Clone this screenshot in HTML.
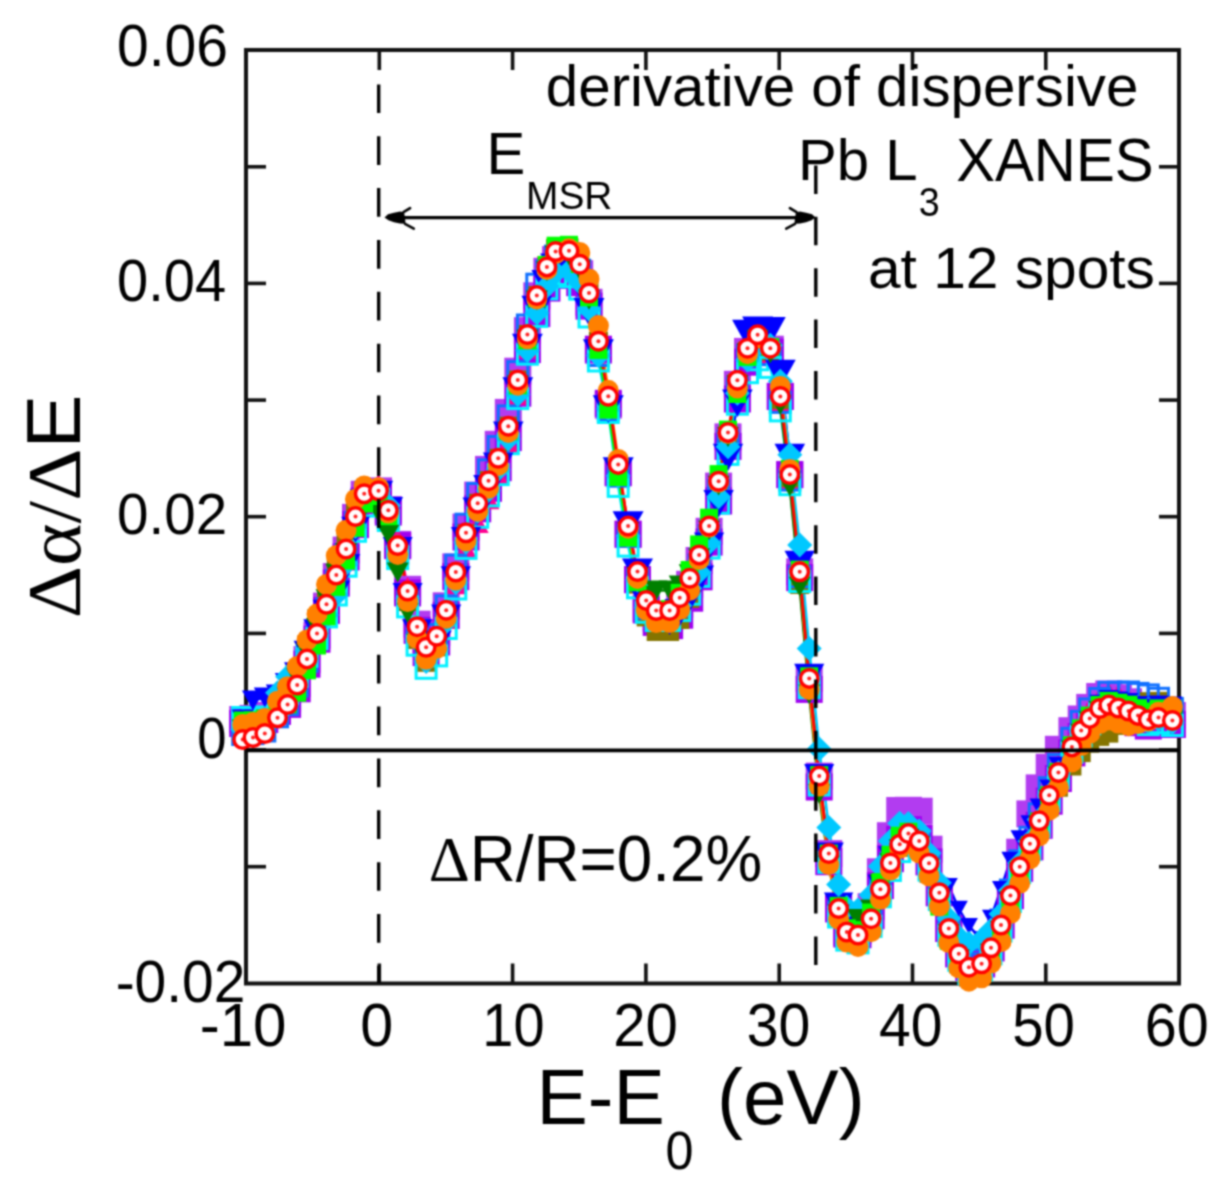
<!DOCTYPE html>
<html><head><meta charset="utf-8"><style>
html,body{margin:0;padding:0;background:#fff;width:1230px;height:1195px;overflow:hidden}
svg{display:block}
text{font-family:"Liberation Sans",sans-serif;fill:#000}
</style></head><body>
<svg width="1230" height="1195" viewBox="0 0 1230 1195">
<defs><filter id="bl" color-interpolation-filters="sRGB" x="0" y="0" width="1230" height="1195" filterUnits="userSpaceOnUse"><feConvolveMatrix order="5" kernelMatrix="1 8 16 8 1 8 64 128 64 8 16 128 256 128 16 8 64 128 64 8 1 8 16 8 1" edgeMode="duplicate"/></filter></defs>
<rect width="1230" height="1195" fill="#fff"/>
<g filter="url(#bl)">
<rect width="1230" height="1195" fill="#fff"/>
<g id="axes">
<rect x="246.0" y="50.0" width="933.0" height="933.5" fill="none" stroke="#111" stroke-width="4"/>
<line x1="246.0" y1="166.8" x2="266.0" y2="166.8" stroke="#111" stroke-width="3.6"/>
<line x1="1159.0" y1="166.8" x2="1179.0" y2="166.8" stroke="#111" stroke-width="3.6"/>
<line x1="246.0" y1="283.4" x2="266.0" y2="283.4" stroke="#111" stroke-width="3.6"/>
<line x1="1159.0" y1="283.4" x2="1179.0" y2="283.4" stroke="#111" stroke-width="3.6"/>
<line x1="246.0" y1="400.1" x2="266.0" y2="400.1" stroke="#111" stroke-width="3.6"/>
<line x1="1159.0" y1="400.1" x2="1179.0" y2="400.1" stroke="#111" stroke-width="3.6"/>
<line x1="246.0" y1="516.7" x2="266.0" y2="516.7" stroke="#111" stroke-width="3.6"/>
<line x1="1159.0" y1="516.7" x2="1179.0" y2="516.7" stroke="#111" stroke-width="3.6"/>
<line x1="246.0" y1="633.4" x2="266.0" y2="633.4" stroke="#111" stroke-width="3.6"/>
<line x1="1159.0" y1="633.4" x2="1179.0" y2="633.4" stroke="#111" stroke-width="3.6"/>
<line x1="246.0" y1="750.0" x2="266.0" y2="750.0" stroke="#111" stroke-width="3.6"/>
<line x1="1159.0" y1="750.0" x2="1179.0" y2="750.0" stroke="#111" stroke-width="3.6"/>
<line x1="246.0" y1="866.7" x2="266.0" y2="866.7" stroke="#111" stroke-width="3.6"/>
<line x1="1159.0" y1="866.7" x2="1179.0" y2="866.7" stroke="#111" stroke-width="3.6"/>
<line x1="379.3" y1="50.0" x2="379.3" y2="70.0" stroke="#111" stroke-width="3.6"/>
<line x1="379.3" y1="963.5" x2="379.3" y2="983.5" stroke="#111" stroke-width="3.6"/>
<line x1="512.6" y1="50.0" x2="512.6" y2="70.0" stroke="#111" stroke-width="3.6"/>
<line x1="512.6" y1="963.5" x2="512.6" y2="983.5" stroke="#111" stroke-width="3.6"/>
<line x1="645.9" y1="50.0" x2="645.9" y2="70.0" stroke="#111" stroke-width="3.6"/>
<line x1="645.9" y1="963.5" x2="645.9" y2="983.5" stroke="#111" stroke-width="3.6"/>
<line x1="779.2" y1="50.0" x2="779.2" y2="70.0" stroke="#111" stroke-width="3.6"/>
<line x1="779.2" y1="963.5" x2="779.2" y2="983.5" stroke="#111" stroke-width="3.6"/>
<line x1="912.5" y1="50.0" x2="912.5" y2="70.0" stroke="#111" stroke-width="3.6"/>
<line x1="912.5" y1="963.5" x2="912.5" y2="983.5" stroke="#111" stroke-width="3.6"/>
<line x1="1045.8" y1="50.0" x2="1045.8" y2="70.0" stroke="#111" stroke-width="3.6"/>
<line x1="1045.8" y1="963.5" x2="1045.8" y2="983.5" stroke="#111" stroke-width="3.6"/>
</g>

<g id="data">
<polyline points="242.7,719.5 253.0,718.4 264.8,715.5 277.5,706.3 287.6,698.4 297.2,683.6 307.0,659.6 317.0,635.2 326.5,606.1 336.3,576.6 346.1,550.1 355.5,517.4 364.2,494.3 378.5,490.9 388.3,509.6 397.7,544.4 407.6,589.3 417.1,624.2 426.1,644.2 436.7,632.5 446.2,605.8 455.8,566.9 466.0,527.1 477.7,495.1 488.5,469.4 498.2,444.3 508.3,412.4 517.8,371.2 527.4,330.7 536.8,295.8 546.9,271.3 555.6,259.6 569.0,260.6 579.7,273.7 589.0,302.3 598.4,350.2 608.3,405.1 618.2,472.9 628.1,534.4 637.5,579.7 646.2,608.2 656.2,617.9 669.6,617.3 679.7,604.1 689.7,584.3 699.1,560.5 709.1,531.3 718.6,486.1 728.0,436.9 737.4,384.3 747.5,351.4 757.6,337.0 770.3,349.2 780.3,396.4 789.8,474.6 799.7,571.8 809.2,678.4 819.2,776.1 828.8,853.6 838.6,908.6 846.8,932.0 858.0,930.5 871.1,906.7 880.4,871.8 890.4,835.7 899.7,810.5 908.4,810.3 919.2,811.2 929.0,849.2 939.3,892.7 948.8,928.5 958.8,953.8 968.9,967.2 981.6,963.8 991.0,947.8 1001.0,925.0 1010.4,895.0 1019.7,852.2 1029.9,813.9 1039.2,787.9 1049.2,767.3 1058.4,749.3 1071.9,730.7 1081.2,719.0 1089.7,707.4 1099.7,696.5 1108.8,694.0 1118.3,697.8 1128.5,701.8 1138.0,707.1 1148.3,712.4 1158.5,711.3 1172.4,715.5" fill="none" stroke="#b23cf0" stroke-width="2.6"/>
<polyline points="242.7,723.5 253.0,722.4 264.8,719.5 277.5,711.4 287.6,704.4 297.2,688.8 307.0,664.2 317.0,639.2 326.5,610.4 336.3,583.1 346.1,557.0 355.5,524.6 364.2,500.9 378.5,494.8 388.3,512.1 397.7,545.7 407.6,592.9 417.1,630.3 426.1,652.6 436.7,642.0 446.2,615.4 455.8,576.7 466.0,537.0 477.7,508.8 488.5,488.3 498.2,467.7 508.3,437.6 517.8,393.2 527.4,349.6 536.8,313.6 546.9,288.1 555.6,275.4 569.0,274.8 579.7,282.7 589.0,306.1 598.4,349.2 608.3,403.3 618.2,472.4 628.1,534.1 637.5,579.6 646.2,609.9 656.2,622.4 669.6,625.6 679.7,615.2 689.7,598.2 699.1,576.8 709.1,542.1 718.6,501.0 728.0,446.4 737.4,399.0 747.5,362.2 757.6,343.9 770.3,352.1 780.3,396.4 789.8,474.6 799.7,577.6 809.2,689.4 819.2,787.0 828.8,861.7 838.6,908.9 846.8,934.0 858.0,934.7 871.1,915.7 880.4,885.6 890.4,858.7 899.7,839.3 908.4,829.7 919.2,838.4 929.0,861.9 939.3,892.7 948.8,928.5 958.8,953.8 968.9,967.2 981.6,963.8 991.0,947.8 1001.0,925.0 1010.4,895.7 1019.7,868.3 1029.9,846.9 1039.2,825.3 1049.2,801.2 1058.4,778.5 1071.9,752.9 1081.2,736.5 1089.7,725.6 1099.7,717.1 1108.8,714.9 1118.3,717.2 1128.5,719.2 1138.0,722.7 1148.3,726.0 1158.5,722.9 1172.4,724.5" fill="none" stroke="#a000f0" stroke-width="2.6"/>
<polyline points="242.7,731.5 253.0,729.6 264.8,725.6 277.5,710.0 287.6,696.9 297.2,677.3 307.0,651.3 317.0,626.0 326.5,596.8 336.3,567.7 346.1,541.7 355.5,509.3 364.2,486.6 378.5,483.7 388.3,503.1 397.7,538.6 407.6,586.7 417.1,625.6 426.1,649.3 436.7,642.0 446.2,619.2 455.8,584.3 466.0,548.6 477.7,523.2 488.5,499.4 498.2,475.8 508.3,442.5 517.8,395.1 527.4,348.5 536.8,308.4 546.9,278.5 555.6,262.0 569.0,260.7 579.7,273.9 589.0,302.6 598.4,350.7 608.3,405.6 618.2,473.6 628.1,535.1 637.5,580.5 646.2,609.2 656.2,619.1 669.6,618.9 679.7,606.0 689.7,586.4 699.1,562.9 709.1,533.7 718.6,488.5 728.0,439.3 737.4,386.7 747.5,354.3 757.6,340.5 770.3,353.4 780.3,401.2 789.8,479.0 799.7,575.8 809.2,682.0 819.2,779.3 828.8,856.4 838.6,911.1 846.8,934.1 858.0,936.7 871.1,919.9 880.4,890.0 890.4,863.4 899.7,844.3 908.4,833.2 919.2,839.9 929.0,861.7 939.3,890.6 948.8,925.9 958.8,950.7 968.9,963.6 981.6,959.5 991.0,943.0 1001.0,919.7 1010.4,889.8 1019.7,860.5 1029.9,837.0 1039.2,813.5 1049.2,787.3 1058.4,764.2 1071.9,737.9 1081.2,721.0 1089.7,708.4 1099.7,697.1 1108.8,692.4 1118.3,694.0 1128.5,698.2 1138.0,703.6 1148.3,709.1 1158.5,708.1 1172.4,712.5" fill="none" stroke="#ff0090" stroke-width="2.6"/>
<polyline points="242.7,731.5 253.0,728.6 264.8,723.4 277.5,706.5 287.6,692.4 297.2,671.9 307.0,644.8 317.0,618.5 326.5,591.5 336.3,564.6 346.1,540.8 355.5,510.6 364.2,490.2 378.5,492.1 388.3,514.9 397.7,553.5 407.6,601.5 417.1,639.5 426.1,662.3 436.7,646.8 446.2,616.8 455.8,575.5 466.0,533.8 477.7,503.3 488.5,480.7 498.2,458.3 508.3,426.2 517.8,380.0 527.4,334.5 536.8,295.6 546.9,265.6 555.6,248.6 569.0,247.8 579.7,262.7 589.0,292.9 598.4,341.2 608.3,396.3 618.2,464.4 628.1,534.1 637.5,584.0 646.2,616.9 656.2,631.5 669.6,631.5 679.7,619.5 689.7,598.4 699.1,568.5 709.1,532.7 718.6,485.8 728.0,435.4 737.4,383.2 747.5,351.2 757.6,337.8 770.3,351.2 780.3,399.4 789.8,477.6 799.7,584.5 809.2,683.7 819.2,779.1 828.8,856.6 838.6,911.6 846.8,935.0 858.0,938.0 871.1,921.7 880.4,892.2 890.4,866.0 899.7,847.3 908.4,838.6 919.2,848.5 929.0,873.2 939.3,902.7 948.8,938.5 958.8,963.8 968.9,977.2 981.6,973.5 991.0,955.6 1001.0,930.8 1010.4,899.7 1019.7,872.7 1029.9,851.8 1039.2,830.6 1049.2,807.0 1058.4,787.2 1071.9,766.0 1081.2,752.6 1089.7,743.1 1099.7,736.4 1108.8,733.1 1118.3,725.4 1128.5,715.4 1138.0,708.9 1148.3,701.8 1158.5,701.4 1172.4,710.5" fill="none" stroke="#847400" stroke-width="2.6"/>
<polyline points="242.7,734.5 253.0,733.6 264.8,731.0 277.5,716.8 287.6,704.7 297.2,686.2 307.0,661.3 317.0,637.0 326.5,608.9 336.3,580.4 346.1,554.7 355.5,522.7 364.2,500.3 378.5,497.9 388.3,517.7 397.7,553.5 407.6,597.1 417.1,630.1 426.1,648.3 436.7,634.5 446.2,605.9 455.8,565.1 466.0,524.2 477.7,493.5 488.5,469.8 498.2,446.5 508.3,415.9 517.8,371.6 527.4,325.0 536.8,284.2 546.9,271.0 555.6,256.1 569.0,256.2 579.7,270.2 589.0,303.1 598.4,355.5 608.3,409.8 618.2,476.2 628.1,536.2 637.5,580.0 646.2,608.4 656.2,618.5 669.6,618.5 679.7,606.3 689.7,587.6 699.1,564.8 709.1,535.6 718.6,490.3 728.0,441.0 737.4,388.3 747.5,355.8 757.6,341.9 770.3,354.7 780.3,402.4 789.8,480.1 799.7,576.8 809.2,682.9 819.2,780.1 828.8,857.2 838.6,911.7 846.8,934.7 858.0,937.1 871.1,920.1 880.4,890.2 890.4,863.5 899.7,844.3 908.4,833.2 919.2,839.9 929.0,861.8 939.3,890.7 948.8,926.1 958.8,950.9 968.9,963.8 981.6,959.7 991.0,943.2 1001.0,920.0 1010.4,890.1 1019.7,860.8 1029.9,837.3 1039.2,813.8 1049.2,787.7 1058.4,764.6 1071.9,738.3 1081.2,721.4 1089.7,708.9 1099.7,698.5 1108.8,692.3 1118.3,692.2 1128.5,692.0 1138.0,693.4 1148.3,694.9 1158.5,698.3 1172.4,708.5" fill="none" stroke="#1070ff" stroke-width="2.6"/>
<polyline points="242.7,717.5 253.0,718.0 264.8,716.9 277.5,704.3 287.6,693.6 297.2,676.3 307.0,656.3 317.0,638.7 326.5,616.9 336.3,595.0 346.1,566.2 355.5,531.3 364.2,506.1 378.5,499.2 388.3,520.5 397.7,558.6 407.6,606.9 417.1,645.2 426.1,668.3 436.7,655.9 446.2,628.5 455.8,589.0 466.0,548.4 477.7,517.3 488.5,495.9 498.2,474.6 508.3,443.7 517.8,398.6 527.4,354.2 536.8,316.4 546.9,288.8 555.6,274.5 569.0,276.8 579.7,289.1 589.0,317.0 598.4,361.0 608.3,412.5 618.2,486.4 628.1,546.1 637.5,587.8 646.2,612.3 656.2,620.5 669.6,620.5 679.7,610.6 689.7,594.2 699.1,576.4 709.1,548.1 718.6,503.2 728.0,454.4 737.4,404.2 747.5,372.7 757.6,359.8 770.3,367.4 780.3,410.9 789.8,484.7 799.7,581.5 809.2,687.8 819.2,785.1 828.8,862.3 838.6,917.0 846.8,940.1 858.0,942.9 871.1,926.4 880.4,896.8 890.4,870.5 899.7,851.6 908.4,840.8 919.2,848.0 929.0,870.1 939.3,899.5 948.8,935.2 958.8,960.3 968.9,973.6 981.6,970.0 991.0,953.9 1001.0,931.0 1010.4,901.5 1019.7,872.7 1029.9,849.6 1039.2,826.5 1049.2,800.8 1058.4,778.1 1071.9,752.4 1081.2,735.9 1089.7,723.8 1099.7,713.8 1108.8,710.3 1118.3,713.2 1128.5,716.1 1138.0,720.4 1148.3,724.7 1158.5,722.6 1172.4,725.5" fill="none" stroke="#00f0ff" stroke-width="2.6"/>
<polyline points="242.7,719.5 253.0,700.5 264.8,697.5 277.5,694.9 287.6,684.5 297.2,674.1 307.0,652.9 317.0,631.5 326.5,612.3 336.3,593.1 346.1,566.9 355.5,529.6 364.2,502.2 378.5,494.0 388.3,510.4 397.7,550.5 407.6,596.6 417.1,632.7 426.1,654.1 436.7,644.0 446.2,618.2 455.8,580.0 466.0,540.8 477.7,511.3 488.5,488.7 498.2,466.3 508.3,435.3 517.8,391.1 527.4,347.5 536.8,309.6 546.9,283.9 555.6,267.3 569.0,264.8 579.7,284.0 589.0,312.0 598.4,353.2 608.3,409.1 618.2,471.2 628.1,525.1 637.5,572.5 646.2,603.2 656.2,615.6 669.6,621.2 679.7,612.6 689.7,597.9 699.1,578.9 709.1,546.1 718.6,503.7 728.0,457.4 737.4,403.2 747.5,333.5 757.6,330.3 770.3,331.0 780.3,373.6 789.8,457.5 799.7,564.5 809.2,677.5 819.2,777.6 828.8,856.1 838.6,905.8 846.8,929.0 858.0,932.0 871.1,915.7 880.4,886.1 890.4,857.2 899.7,844.1 908.4,833.3 919.2,840.2 929.0,862.2 939.3,885.6 948.8,886.2 958.8,908.8 968.9,926.2 981.6,939.3 991.0,917.8 1001.0,889.0 1010.4,859.9 1019.7,838.6 1029.9,823.7 1039.2,807.1 1049.2,788.2 1058.4,765.8 1071.9,749.8 1081.2,736.4 1089.7,719.4 1099.7,703.7 1108.8,698.9 1118.3,700.5 1128.5,702.0 1138.0,705.1 1148.3,708.0 1158.5,704.5 1172.4,705.5" fill="none" stroke="#0000ff" stroke-width="2.6"/>
<polyline points="242.7,729.5 253.0,725.2 264.8,718.5 277.5,692.7 287.6,676.7 297.2,667.0 307.0,650.7 317.0,635.0 326.5,615.1 336.3,594.9 346.1,563.8 355.5,526.5 364.2,499.2 378.5,489.9 388.3,505.4 397.7,546.7 407.6,598.4 417.1,639.9 426.1,661.6 436.7,649.3 446.2,622.0 455.8,582.7 466.0,542.2 477.7,511.3 488.5,490.4 498.2,469.6 508.3,439.1 517.8,394.4 527.4,350.5 536.8,313.1 546.9,286.3 555.6,272.6 569.0,271.0 579.7,282.3 589.0,309.2 598.4,355.5 608.3,409.1 618.2,475.7 628.1,535.9 637.5,580.0 646.2,607.6 656.2,616.5 669.6,616.5 679.7,605.6 689.7,588.2 699.1,572.2 709.1,542.9 718.6,496.7 728.0,446.7 737.4,393.2 747.5,359.9 757.6,345.1 770.3,345.3 780.3,381.2 789.8,454.7 799.7,545.0 809.2,648.5 819.2,749.1 828.8,827.6 838.6,884.5 846.8,907.6 858.0,910.0 871.1,894.9 880.4,866.3 890.4,841.1 899.7,823.3 908.4,823.6 919.2,830.9 929.0,853.2 939.3,882.7 948.8,918.5 958.8,936.9 968.9,943.3 981.6,939.8 991.0,929.9 1001.0,913.9 1010.4,890.6 1019.7,863.0 1029.9,841.3 1039.2,819.4 1049.2,795.1 1058.4,772.7 1071.9,747.4 1081.2,731.2 1089.7,719.3 1099.7,709.6 1108.8,706.4 1118.3,709.5 1128.5,712.7 1138.0,717.4 1148.3,721.7 1158.5,719.6 1172.4,722.5" fill="none" stroke="#00c8ff" stroke-width="2.6"/>
<polyline points="242.7,729.5 253.0,728.1 264.8,724.8 277.5,709.8 287.6,697.2 297.2,678.1 307.0,652.6 317.0,627.8 326.5,599.1 336.3,573.6 346.1,552.9 355.5,525.7 364.2,507.6 378.5,512.5 388.3,534.6 397.7,572.5 407.6,613.0 417.1,643.6 426.1,659.4 436.7,645.9 446.2,619.3 455.8,580.5 466.0,540.7 477.7,510.6 488.5,487.4 498.2,464.4 508.3,431.9 517.8,385.4 527.4,339.6 536.8,300.4 546.9,271.3 555.6,255.6 569.0,255.7 579.7,270.2 589.0,299.9 598.4,349.0 608.3,403.7 618.2,471.0 628.1,532.0 637.5,576.8 646.2,595.7 656.2,590.5 669.6,590.5 679.7,585.5 689.7,574.1 699.1,558.2 709.1,530.3 718.6,485.7 728.0,437.1 737.4,385.1 747.5,353.2 757.6,339.8 770.3,353.3 780.3,405.0 789.8,486.5 799.7,586.7 809.2,694.4 819.2,794.0 828.8,865.5 838.6,914.5 846.8,929.1 858.0,919.0 871.1,909.2 880.4,884.4 890.4,863.2 899.7,849.1 908.4,838.7 919.2,846.1 929.0,868.5 939.3,898.1 948.8,934.0 958.8,959.4 968.9,972.9 981.6,969.6 991.0,953.7 1001.0,931.0 1010.4,901.2 1019.7,872.1 1029.9,848.8 1039.2,825.4 1049.2,799.5 1058.4,776.5 1071.9,750.4 1081.2,733.7 1089.7,721.3 1099.7,711.0 1108.8,707.3 1118.3,709.9 1128.5,712.5 1138.0,716.6 1148.3,720.5 1158.5,718.1 1172.4,720.5" fill="none" stroke="#008000" stroke-width="2.6"/>
<polyline points="242.7,720.5 253.0,720.3 264.8,718.5 277.5,711.0 287.6,704.3 297.2,692.7 307.0,670.3 317.0,645.5 326.5,616.3 336.3,586.9 346.1,560.5 355.5,527.8 364.2,503.5 378.5,496.0 388.3,516.2 397.7,551.6 407.6,597.1 417.1,632.7 426.1,652.9 436.7,641.2 446.2,614.5 455.8,576.0 466.0,536.8 477.7,507.3 488.5,484.7 498.2,462.8 508.3,431.2 517.8,385.4 527.4,340.4 536.8,298.4 546.9,264.9 555.6,245.7 569.0,244.8 579.7,264.0 589.0,297.3 598.4,349.9 608.3,409.6 618.2,477.0 628.1,537.6 637.5,582.2 646.2,607.7 656.2,613.9 669.6,609.2 679.7,592.9 689.7,570.0 699.1,544.4 709.1,517.7 718.6,474.1 728.0,429.6 737.4,394.0 747.5,356.9 757.6,338.5 770.3,347.0 780.3,391.5 789.8,469.0 799.7,569.6 809.2,676.3 819.2,775.1 828.8,853.6 838.6,905.9 846.8,928.4 858.0,930.2 871.1,912.5 880.4,882.1 890.4,854.8 899.7,835.7 908.4,831.7 919.2,844.6 929.0,872.0 939.3,906.6 948.8,940.8 958.8,964.4 968.9,976.1 981.6,970.5 991.0,952.8 1001.0,928.4 1010.4,898.4 1019.7,868.9 1029.9,845.2 1039.2,821.5 1049.2,795.2 1058.4,771.9 1071.9,745.3 1081.2,728.3 1089.7,715.6 1099.7,705.0 1108.8,700.8 1118.3,702.7 1128.5,704.7 1138.0,708.2 1148.3,711.5 1158.5,708.4 1172.4,709.3" fill="none" stroke="#00ff00" stroke-width="2.6"/>
<polyline points="242.7,724.5 253.0,722.5 264.8,718.5 277.5,701.2 287.6,686.7 297.2,666.6 307.0,640.0 317.0,614.1 326.5,584.5 336.3,555.6 346.1,530.3 355.5,499.2 364.2,485.9 378.5,487.7 388.3,513.1 397.7,554.4 407.6,601.6 417.1,638.7 426.1,659.3 436.7,648.3 446.2,618.2 455.8,580.0 466.0,540.8 477.7,511.3 488.5,488.3 498.2,465.4 508.3,432.4 517.8,385.2 527.4,338.8 536.8,298.9 546.9,269.5 555.6,253.5 569.0,248.8 579.7,252.5 589.0,279.0 598.4,325.6 608.3,390.3 618.2,459.5 628.1,528.2 637.5,578.4 646.2,610.0 656.2,622.5 669.6,622.5 679.7,609.7 689.7,590.3 699.1,559.6 709.1,527.1 718.6,482.2 728.0,433.4 737.4,388.1 747.5,353.7 757.6,337.9 770.3,347.9 780.3,386.5 789.8,469.5 799.7,571.6 809.2,689.4 819.2,786.1 828.8,864.6 838.6,919.1 846.8,942.0 858.0,946.4 871.1,931.7 880.4,899.3 890.4,870.0 899.7,848.4 908.4,841.1 919.2,852.9 929.0,875.9 939.3,906.1 948.8,942.5 958.8,967.8 968.9,981.2 981.6,977.8 991.0,963.1 1001.0,941.7 1010.4,913.5 1019.7,883.3 1029.9,858.8 1039.2,835.8 1049.2,810.2 1058.4,787.5 1071.9,761.9 1081.2,745.5 1089.7,733.4 1099.7,723.5 1108.8,720.1 1118.3,723.0 1128.5,725.7 1138.0,723.6 1148.3,720.9 1158.5,712.2 1172.4,706.5" fill="none" stroke="#ff8000" stroke-width="2.6"/>
<polyline points="242.7,739.5 253.0,737.5 264.8,733.5 277.5,717.8 287.6,704.6 297.2,685.0 307.0,658.9 317.0,633.5 326.5,604.3 336.3,575.1 346.1,549.0 355.5,516.6 364.2,493.8 378.5,490.8 388.3,510.2 397.7,545.6 407.6,591.1 417.1,626.7 426.1,647.3 436.7,636.3 446.2,610.2 455.8,572.0 466.0,532.8 477.7,503.3 488.5,480.7 498.2,458.3 508.3,426.2 517.8,380.0 527.4,334.5 536.8,295.6 546.9,266.9 555.6,251.5 569.0,250.8 579.7,264.2 589.0,293.0 598.4,341.2 608.3,396.3 618.2,464.4 628.1,526.1 637.5,571.6 646.2,600.4 656.2,610.5 669.6,610.5 679.7,597.7 689.7,578.3 699.1,554.9 709.1,526.1 718.6,481.2 728.0,432.4 737.4,380.2 747.5,348.2 757.6,334.8 770.3,348.2 780.3,396.4 789.8,474.6 799.7,571.8 809.2,678.4 819.2,776.1 828.8,853.6 838.6,908.6 846.8,932.0 858.0,935.0 871.1,918.7 880.4,889.2 890.4,863.0 899.7,844.3 908.4,833.6 919.2,840.9 929.0,863.2 939.3,892.7 948.8,928.5 958.8,953.8 968.9,967.2 981.6,963.8 991.0,947.8 1001.0,925.0 1010.4,895.6 1019.7,866.8 1029.9,843.8 1039.2,820.8 1049.2,795.2 1058.4,772.5 1071.9,746.9 1081.2,730.5 1089.7,718.4 1099.7,708.5 1108.8,705.1 1118.3,708.0 1128.5,711.0 1138.0,715.4 1148.3,719.7 1158.5,717.6 1172.4,720.5" fill="none" stroke="#ff0000" stroke-width="2.8"/>
<rect x="229.2" y="706.0" width="27.0" height="27.0" fill="#b23cf0"/>
<rect x="239.5" y="704.9" width="27.0" height="27.0" fill="#b23cf0"/>
<rect x="251.3" y="702.0" width="27.0" height="27.0" fill="#b23cf0"/>
<rect x="264.0" y="692.8" width="27.0" height="27.0" fill="#b23cf0"/>
<rect x="274.1" y="684.9" width="27.0" height="27.0" fill="#b23cf0"/>
<rect x="283.7" y="670.1" width="27.0" height="27.0" fill="#b23cf0"/>
<rect x="293.5" y="646.1" width="27.0" height="27.0" fill="#b23cf0"/>
<rect x="303.5" y="621.7" width="27.0" height="27.0" fill="#b23cf0"/>
<rect x="313.0" y="592.6" width="27.0" height="27.0" fill="#b23cf0"/>
<rect x="322.8" y="563.1" width="27.0" height="27.0" fill="#b23cf0"/>
<rect x="332.6" y="536.6" width="27.0" height="27.0" fill="#b23cf0"/>
<rect x="342.0" y="503.9" width="27.0" height="27.0" fill="#b23cf0"/>
<rect x="350.7" y="480.8" width="27.0" height="27.0" fill="#b23cf0"/>
<rect x="365.0" y="477.4" width="27.0" height="27.0" fill="#b23cf0"/>
<rect x="374.8" y="496.1" width="27.0" height="27.0" fill="#b23cf0"/>
<rect x="384.2" y="530.9" width="27.0" height="27.0" fill="#b23cf0"/>
<rect x="394.1" y="575.8" width="27.0" height="27.0" fill="#b23cf0"/>
<rect x="403.6" y="610.7" width="27.0" height="27.0" fill="#b23cf0"/>
<rect x="412.6" y="630.7" width="27.0" height="27.0" fill="#b23cf0"/>
<rect x="423.2" y="619.0" width="27.0" height="27.0" fill="#b23cf0"/>
<rect x="432.7" y="592.3" width="27.0" height="27.0" fill="#b23cf0"/>
<rect x="442.3" y="553.4" width="27.0" height="27.0" fill="#b23cf0"/>
<rect x="452.5" y="513.6" width="27.0" height="27.0" fill="#b23cf0"/>
<rect x="464.2" y="481.6" width="27.0" height="27.0" fill="#b23cf0"/>
<rect x="475.0" y="455.9" width="27.0" height="27.0" fill="#b23cf0"/>
<rect x="484.7" y="430.8" width="27.0" height="27.0" fill="#b23cf0"/>
<rect x="494.8" y="398.9" width="27.0" height="27.0" fill="#b23cf0"/>
<rect x="504.3" y="357.7" width="27.0" height="27.0" fill="#b23cf0"/>
<rect x="513.9" y="317.2" width="27.0" height="27.0" fill="#b23cf0"/>
<rect x="523.3" y="282.3" width="27.0" height="27.0" fill="#b23cf0"/>
<rect x="533.4" y="257.8" width="27.0" height="27.0" fill="#b23cf0"/>
<rect x="542.1" y="246.1" width="27.0" height="27.0" fill="#b23cf0"/>
<rect x="555.5" y="247.1" width="27.0" height="27.0" fill="#b23cf0"/>
<rect x="566.2" y="260.2" width="27.0" height="27.0" fill="#b23cf0"/>
<rect x="575.5" y="288.8" width="27.0" height="27.0" fill="#b23cf0"/>
<rect x="584.9" y="336.7" width="27.0" height="27.0" fill="#b23cf0"/>
<rect x="594.8" y="391.6" width="27.0" height="27.0" fill="#b23cf0"/>
<rect x="604.7" y="459.4" width="27.0" height="27.0" fill="#b23cf0"/>
<rect x="614.6" y="520.9" width="27.0" height="27.0" fill="#b23cf0"/>
<rect x="624.0" y="566.2" width="27.0" height="27.0" fill="#b23cf0"/>
<rect x="632.7" y="594.7" width="27.0" height="27.0" fill="#b23cf0"/>
<rect x="642.7" y="604.4" width="27.0" height="27.0" fill="#b23cf0"/>
<rect x="656.1" y="603.8" width="27.0" height="27.0" fill="#b23cf0"/>
<rect x="666.2" y="590.6" width="27.0" height="27.0" fill="#b23cf0"/>
<rect x="676.2" y="570.8" width="27.0" height="27.0" fill="#b23cf0"/>
<rect x="685.6" y="547.0" width="27.0" height="27.0" fill="#b23cf0"/>
<rect x="695.6" y="517.8" width="27.0" height="27.0" fill="#b23cf0"/>
<rect x="705.1" y="472.6" width="27.0" height="27.0" fill="#b23cf0"/>
<rect x="714.5" y="423.4" width="27.0" height="27.0" fill="#b23cf0"/>
<rect x="723.9" y="370.8" width="27.0" height="27.0" fill="#b23cf0"/>
<rect x="734.0" y="337.9" width="27.0" height="27.0" fill="#b23cf0"/>
<rect x="744.1" y="323.5" width="27.0" height="27.0" fill="#b23cf0"/>
<rect x="756.8" y="335.7" width="27.0" height="27.0" fill="#b23cf0"/>
<rect x="766.8" y="382.9" width="27.0" height="27.0" fill="#b23cf0"/>
<rect x="776.3" y="461.1" width="27.0" height="27.0" fill="#b23cf0"/>
<rect x="786.2" y="558.3" width="27.0" height="27.0" fill="#b23cf0"/>
<rect x="795.7" y="664.9" width="27.0" height="27.0" fill="#b23cf0"/>
<rect x="805.7" y="762.6" width="27.0" height="27.0" fill="#b23cf0"/>
<rect x="815.3" y="840.1" width="27.0" height="27.0" fill="#b23cf0"/>
<rect x="825.1" y="895.1" width="27.0" height="27.0" fill="#b23cf0"/>
<rect x="833.3" y="918.5" width="27.0" height="27.0" fill="#b23cf0"/>
<rect x="844.5" y="917.0" width="27.0" height="27.0" fill="#b23cf0"/>
<rect x="857.6" y="893.2" width="27.0" height="27.0" fill="#b23cf0"/>
<rect x="866.9" y="858.3" width="27.0" height="27.0" fill="#b23cf0"/>
<rect x="876.9" y="822.2" width="27.0" height="27.0" fill="#b23cf0"/>
<rect x="886.2" y="797.0" width="27.0" height="27.0" fill="#b23cf0"/>
<rect x="894.9" y="796.8" width="27.0" height="27.0" fill="#b23cf0"/>
<rect x="905.7" y="797.7" width="27.0" height="27.0" fill="#b23cf0"/>
<rect x="915.5" y="835.7" width="27.0" height="27.0" fill="#b23cf0"/>
<rect x="925.8" y="879.2" width="27.0" height="27.0" fill="#b23cf0"/>
<rect x="935.3" y="915.0" width="27.0" height="27.0" fill="#b23cf0"/>
<rect x="945.3" y="940.3" width="27.0" height="27.0" fill="#b23cf0"/>
<rect x="955.4" y="953.7" width="27.0" height="27.0" fill="#b23cf0"/>
<rect x="968.1" y="950.3" width="27.0" height="27.0" fill="#b23cf0"/>
<rect x="977.5" y="934.3" width="27.0" height="27.0" fill="#b23cf0"/>
<rect x="987.5" y="911.5" width="27.0" height="27.0" fill="#b23cf0"/>
<rect x="996.9" y="881.5" width="27.0" height="27.0" fill="#b23cf0"/>
<rect x="1006.2" y="838.7" width="27.0" height="27.0" fill="#b23cf0"/>
<rect x="1016.4" y="800.4" width="27.0" height="27.0" fill="#b23cf0"/>
<rect x="1025.7" y="774.4" width="27.0" height="27.0" fill="#b23cf0"/>
<rect x="1035.7" y="753.8" width="27.0" height="27.0" fill="#b23cf0"/>
<rect x="1044.9" y="735.8" width="27.0" height="27.0" fill="#b23cf0"/>
<rect x="1058.4" y="717.2" width="27.0" height="27.0" fill="#b23cf0"/>
<rect x="1067.7" y="705.5" width="27.0" height="27.0" fill="#b23cf0"/>
<rect x="1076.2" y="693.9" width="27.0" height="27.0" fill="#b23cf0"/>
<rect x="1086.2" y="683.0" width="27.0" height="27.0" fill="#b23cf0"/>
<rect x="1095.3" y="680.5" width="27.0" height="27.0" fill="#b23cf0"/>
<rect x="1104.8" y="684.3" width="27.0" height="27.0" fill="#b23cf0"/>
<rect x="1115.0" y="688.3" width="27.0" height="27.0" fill="#b23cf0"/>
<rect x="1124.5" y="693.6" width="27.0" height="27.0" fill="#b23cf0"/>
<rect x="1134.8" y="698.9" width="27.0" height="27.0" fill="#b23cf0"/>
<rect x="1145.0" y="697.8" width="27.0" height="27.0" fill="#b23cf0"/>
<rect x="1158.9" y="702.0" width="27.0" height="27.0" fill="#b23cf0"/>
<rect x="229.2" y="710.0" width="27.0" height="27.0" fill="#a000f0"/>
<rect x="239.5" y="708.9" width="27.0" height="27.0" fill="#a000f0"/>
<rect x="251.3" y="706.0" width="27.0" height="27.0" fill="#a000f0"/>
<rect x="264.0" y="697.9" width="27.0" height="27.0" fill="#a000f0"/>
<rect x="274.1" y="690.9" width="27.0" height="27.0" fill="#a000f0"/>
<rect x="283.7" y="675.3" width="27.0" height="27.0" fill="#a000f0"/>
<rect x="293.5" y="650.7" width="27.0" height="27.0" fill="#a000f0"/>
<rect x="303.5" y="625.7" width="27.0" height="27.0" fill="#a000f0"/>
<rect x="313.0" y="596.9" width="27.0" height="27.0" fill="#a000f0"/>
<rect x="322.8" y="569.6" width="27.0" height="27.0" fill="#a000f0"/>
<rect x="332.6" y="543.5" width="27.0" height="27.0" fill="#a000f0"/>
<rect x="342.0" y="511.1" width="27.0" height="27.0" fill="#a000f0"/>
<rect x="350.7" y="487.4" width="27.0" height="27.0" fill="#a000f0"/>
<rect x="365.0" y="481.3" width="27.0" height="27.0" fill="#a000f0"/>
<rect x="374.8" y="498.6" width="27.0" height="27.0" fill="#a000f0"/>
<rect x="384.2" y="532.2" width="27.0" height="27.0" fill="#a000f0"/>
<rect x="394.1" y="579.4" width="27.0" height="27.0" fill="#a000f0"/>
<rect x="403.6" y="616.8" width="27.0" height="27.0" fill="#a000f0"/>
<rect x="412.6" y="639.1" width="27.0" height="27.0" fill="#a000f0"/>
<rect x="423.2" y="628.5" width="27.0" height="27.0" fill="#a000f0"/>
<rect x="432.7" y="601.9" width="27.0" height="27.0" fill="#a000f0"/>
<rect x="442.3" y="563.2" width="27.0" height="27.0" fill="#a000f0"/>
<rect x="452.5" y="523.5" width="27.0" height="27.0" fill="#a000f0"/>
<rect x="464.2" y="495.3" width="27.0" height="27.0" fill="#a000f0"/>
<rect x="475.0" y="474.8" width="27.0" height="27.0" fill="#a000f0"/>
<rect x="484.7" y="454.2" width="27.0" height="27.0" fill="#a000f0"/>
<rect x="494.8" y="424.1" width="27.0" height="27.0" fill="#a000f0"/>
<rect x="504.3" y="379.7" width="27.0" height="27.0" fill="#a000f0"/>
<rect x="513.9" y="336.1" width="27.0" height="27.0" fill="#a000f0"/>
<rect x="523.3" y="300.1" width="27.0" height="27.0" fill="#a000f0"/>
<rect x="533.4" y="274.6" width="27.0" height="27.0" fill="#a000f0"/>
<rect x="542.1" y="261.9" width="27.0" height="27.0" fill="#a000f0"/>
<rect x="555.5" y="261.3" width="27.0" height="27.0" fill="#a000f0"/>
<rect x="566.2" y="269.2" width="27.0" height="27.0" fill="#a000f0"/>
<rect x="575.5" y="292.6" width="27.0" height="27.0" fill="#a000f0"/>
<rect x="584.9" y="335.7" width="27.0" height="27.0" fill="#a000f0"/>
<rect x="594.8" y="389.8" width="27.0" height="27.0" fill="#a000f0"/>
<rect x="604.7" y="458.9" width="27.0" height="27.0" fill="#a000f0"/>
<rect x="614.6" y="520.6" width="27.0" height="27.0" fill="#a000f0"/>
<rect x="624.0" y="566.1" width="27.0" height="27.0" fill="#a000f0"/>
<rect x="632.7" y="596.4" width="27.0" height="27.0" fill="#a000f0"/>
<rect x="642.7" y="608.9" width="27.0" height="27.0" fill="#a000f0"/>
<rect x="656.1" y="612.1" width="27.0" height="27.0" fill="#a000f0"/>
<rect x="666.2" y="601.7" width="27.0" height="27.0" fill="#a000f0"/>
<rect x="676.2" y="584.7" width="27.0" height="27.0" fill="#a000f0"/>
<rect x="685.6" y="563.3" width="27.0" height="27.0" fill="#a000f0"/>
<rect x="695.6" y="528.6" width="27.0" height="27.0" fill="#a000f0"/>
<rect x="705.1" y="487.5" width="27.0" height="27.0" fill="#a000f0"/>
<rect x="714.5" y="432.9" width="27.0" height="27.0" fill="#a000f0"/>
<rect x="723.9" y="385.5" width="27.0" height="27.0" fill="#a000f0"/>
<rect x="734.0" y="348.7" width="27.0" height="27.0" fill="#a000f0"/>
<rect x="744.1" y="330.4" width="27.0" height="27.0" fill="#a000f0"/>
<rect x="756.8" y="338.6" width="27.0" height="27.0" fill="#a000f0"/>
<rect x="766.8" y="382.9" width="27.0" height="27.0" fill="#a000f0"/>
<rect x="776.3" y="461.1" width="27.0" height="27.0" fill="#a000f0"/>
<rect x="786.2" y="564.1" width="27.0" height="27.0" fill="#a000f0"/>
<rect x="795.7" y="675.9" width="27.0" height="27.0" fill="#a000f0"/>
<rect x="805.7" y="773.5" width="27.0" height="27.0" fill="#a000f0"/>
<rect x="815.3" y="848.2" width="27.0" height="27.0" fill="#a000f0"/>
<rect x="825.1" y="895.4" width="27.0" height="27.0" fill="#a000f0"/>
<rect x="833.3" y="920.5" width="27.0" height="27.0" fill="#a000f0"/>
<rect x="844.5" y="921.2" width="27.0" height="27.0" fill="#a000f0"/>
<rect x="857.6" y="902.2" width="27.0" height="27.0" fill="#a000f0"/>
<rect x="866.9" y="872.1" width="27.0" height="27.0" fill="#a000f0"/>
<rect x="876.9" y="845.2" width="27.0" height="27.0" fill="#a000f0"/>
<rect x="886.2" y="825.8" width="27.0" height="27.0" fill="#a000f0"/>
<rect x="894.9" y="816.2" width="27.0" height="27.0" fill="#a000f0"/>
<rect x="905.7" y="824.9" width="27.0" height="27.0" fill="#a000f0"/>
<rect x="915.5" y="848.4" width="27.0" height="27.0" fill="#a000f0"/>
<rect x="925.8" y="879.2" width="27.0" height="27.0" fill="#a000f0"/>
<rect x="935.3" y="915.0" width="27.0" height="27.0" fill="#a000f0"/>
<rect x="945.3" y="940.3" width="27.0" height="27.0" fill="#a000f0"/>
<rect x="955.4" y="953.7" width="27.0" height="27.0" fill="#a000f0"/>
<rect x="968.1" y="950.3" width="27.0" height="27.0" fill="#a000f0"/>
<rect x="977.5" y="934.3" width="27.0" height="27.0" fill="#a000f0"/>
<rect x="987.5" y="911.5" width="27.0" height="27.0" fill="#a000f0"/>
<rect x="996.9" y="882.2" width="27.0" height="27.0" fill="#a000f0"/>
<rect x="1006.2" y="854.8" width="27.0" height="27.0" fill="#a000f0"/>
<rect x="1016.4" y="833.4" width="27.0" height="27.0" fill="#a000f0"/>
<rect x="1025.7" y="811.8" width="27.0" height="27.0" fill="#a000f0"/>
<rect x="1035.7" y="787.7" width="27.0" height="27.0" fill="#a000f0"/>
<rect x="1044.9" y="765.0" width="27.0" height="27.0" fill="#a000f0"/>
<rect x="1058.4" y="739.4" width="27.0" height="27.0" fill="#a000f0"/>
<rect x="1067.7" y="723.0" width="27.0" height="27.0" fill="#a000f0"/>
<rect x="1076.2" y="712.1" width="27.0" height="27.0" fill="#a000f0"/>
<rect x="1086.2" y="703.6" width="27.0" height="27.0" fill="#a000f0"/>
<rect x="1095.3" y="701.4" width="27.0" height="27.0" fill="#a000f0"/>
<rect x="1104.8" y="703.7" width="27.0" height="27.0" fill="#a000f0"/>
<rect x="1115.0" y="705.7" width="27.0" height="27.0" fill="#a000f0"/>
<rect x="1124.5" y="709.2" width="27.0" height="27.0" fill="#a000f0"/>
<rect x="1134.8" y="712.5" width="27.0" height="27.0" fill="#a000f0"/>
<rect x="1145.0" y="709.4" width="27.0" height="27.0" fill="#a000f0"/>
<rect x="1158.9" y="711.0" width="27.0" height="27.0" fill="#a000f0"/>
<path d="M231.7,741.4H253.7L242.7,721.6Z" fill="#ff0090"/>
<path d="M242.0,739.5H264.0L253.0,719.7Z" fill="#ff0090"/>
<path d="M253.8,735.5H275.8L264.8,715.7Z" fill="#ff0090"/>
<path d="M266.5,719.9H288.5L277.5,700.1Z" fill="#ff0090"/>
<path d="M276.6,706.8H298.6L287.6,687.0Z" fill="#ff0090"/>
<path d="M286.2,687.2H308.2L297.2,667.4Z" fill="#ff0090"/>
<path d="M296.0,661.2H318.0L307.0,641.4Z" fill="#ff0090"/>
<path d="M306.0,635.9H328.0L317.0,616.1Z" fill="#ff0090"/>
<path d="M315.5,606.7H337.5L326.5,586.9Z" fill="#ff0090"/>
<path d="M325.3,577.6H347.3L336.3,557.8Z" fill="#ff0090"/>
<path d="M335.1,551.6H357.1L346.1,531.8Z" fill="#ff0090"/>
<path d="M344.5,519.2H366.5L355.5,499.4Z" fill="#ff0090"/>
<path d="M353.2,496.5H375.2L364.2,476.7Z" fill="#ff0090"/>
<path d="M367.5,493.6H389.5L378.5,473.8Z" fill="#ff0090"/>
<path d="M377.3,513.0H399.3L388.3,493.2Z" fill="#ff0090"/>
<path d="M386.7,548.5H408.7L397.7,528.7Z" fill="#ff0090"/>
<path d="M396.6,596.6H418.6L407.6,576.8Z" fill="#ff0090"/>
<path d="M406.1,635.5H428.1L417.1,615.7Z" fill="#ff0090"/>
<path d="M415.1,659.2H437.1L426.1,639.4Z" fill="#ff0090"/>
<path d="M425.7,651.9H447.7L436.7,632.1Z" fill="#ff0090"/>
<path d="M435.2,629.1H457.2L446.2,609.3Z" fill="#ff0090"/>
<path d="M444.8,594.2H466.8L455.8,574.4Z" fill="#ff0090"/>
<path d="M455.0,558.5H477.0L466.0,538.7Z" fill="#ff0090"/>
<path d="M466.7,533.1H488.7L477.7,513.3Z" fill="#ff0090"/>
<path d="M477.5,509.3H499.5L488.5,489.5Z" fill="#ff0090"/>
<path d="M487.2,485.7H509.2L498.2,465.9Z" fill="#ff0090"/>
<path d="M497.3,452.4H519.3L508.3,432.6Z" fill="#ff0090"/>
<path d="M506.8,405.0H528.8L517.8,385.2Z" fill="#ff0090"/>
<path d="M516.4,358.4H538.4L527.4,338.6Z" fill="#ff0090"/>
<path d="M525.8,318.3H547.8L536.8,298.5Z" fill="#ff0090"/>
<path d="M535.9,288.4H557.9L546.9,268.6Z" fill="#ff0090"/>
<path d="M544.6,271.9H566.6L555.6,252.1Z" fill="#ff0090"/>
<path d="M558.0,270.6H580.0L569.0,250.8Z" fill="#ff0090"/>
<path d="M568.7,283.8H590.7L579.7,264.0Z" fill="#ff0090"/>
<path d="M578.0,312.5H600.0L589.0,292.7Z" fill="#ff0090"/>
<path d="M587.4,360.6H609.4L598.4,340.8Z" fill="#ff0090"/>
<path d="M597.3,415.5H619.3L608.3,395.7Z" fill="#ff0090"/>
<path d="M607.2,483.5H629.2L618.2,463.7Z" fill="#ff0090"/>
<path d="M617.1,545.0H639.1L628.1,525.2Z" fill="#ff0090"/>
<path d="M626.5,590.4H648.5L637.5,570.6Z" fill="#ff0090"/>
<path d="M635.2,619.1H657.2L646.2,599.3Z" fill="#ff0090"/>
<path d="M645.2,629.0H667.2L656.2,609.2Z" fill="#ff0090"/>
<path d="M658.6,628.8H680.6L669.6,609.0Z" fill="#ff0090"/>
<path d="M668.7,615.9H690.7L679.7,596.1Z" fill="#ff0090"/>
<path d="M678.7,596.3H700.7L689.7,576.5Z" fill="#ff0090"/>
<path d="M688.1,572.8H710.1L699.1,553.0Z" fill="#ff0090"/>
<path d="M698.1,543.6H720.1L709.1,523.8Z" fill="#ff0090"/>
<path d="M707.6,498.4H729.6L718.6,478.6Z" fill="#ff0090"/>
<path d="M717.0,449.2H739.0L728.0,429.4Z" fill="#ff0090"/>
<path d="M726.4,396.6H748.4L737.4,376.8Z" fill="#ff0090"/>
<path d="M736.5,364.2H758.5L747.5,344.4Z" fill="#ff0090"/>
<path d="M746.6,350.4H768.6L757.6,330.6Z" fill="#ff0090"/>
<path d="M759.3,363.3H781.3L770.3,343.5Z" fill="#ff0090"/>
<path d="M769.3,411.1H791.3L780.3,391.3Z" fill="#ff0090"/>
<path d="M778.8,488.9H800.8L789.8,469.1Z" fill="#ff0090"/>
<path d="M788.7,585.7H810.7L799.7,565.9Z" fill="#ff0090"/>
<path d="M798.2,691.9H820.2L809.2,672.1Z" fill="#ff0090"/>
<path d="M808.2,789.2H830.2L819.2,769.4Z" fill="#ff0090"/>
<path d="M817.8,866.3H839.8L828.8,846.5Z" fill="#ff0090"/>
<path d="M827.6,921.0H849.6L838.6,901.2Z" fill="#ff0090"/>
<path d="M835.8,944.0H857.8L846.8,924.2Z" fill="#ff0090"/>
<path d="M847.0,946.6H869.0L858.0,926.8Z" fill="#ff0090"/>
<path d="M860.1,929.8H882.1L871.1,910.0Z" fill="#ff0090"/>
<path d="M869.4,899.9H891.4L880.4,880.1Z" fill="#ff0090"/>
<path d="M879.4,873.3H901.4L890.4,853.5Z" fill="#ff0090"/>
<path d="M888.7,854.2H910.7L899.7,834.4Z" fill="#ff0090"/>
<path d="M897.4,843.1H919.4L908.4,823.3Z" fill="#ff0090"/>
<path d="M908.2,849.8H930.2L919.2,830.0Z" fill="#ff0090"/>
<path d="M918.0,871.6H940.0L929.0,851.8Z" fill="#ff0090"/>
<path d="M928.3,900.5H950.3L939.3,880.7Z" fill="#ff0090"/>
<path d="M937.8,935.8H959.8L948.8,916.0Z" fill="#ff0090"/>
<path d="M947.8,960.6H969.8L958.8,940.8Z" fill="#ff0090"/>
<path d="M957.9,973.5H979.9L968.9,953.7Z" fill="#ff0090"/>
<path d="M970.6,969.4H992.6L981.6,949.6Z" fill="#ff0090"/>
<path d="M980.0,952.9H1002.0L991.0,933.1Z" fill="#ff0090"/>
<path d="M990.0,929.6H1012.0L1001.0,909.8Z" fill="#ff0090"/>
<path d="M999.4,899.7H1021.4L1010.4,879.9Z" fill="#ff0090"/>
<path d="M1008.7,870.4H1030.7L1019.7,850.6Z" fill="#ff0090"/>
<path d="M1018.9,846.9H1040.9L1029.9,827.1Z" fill="#ff0090"/>
<path d="M1028.2,823.4H1050.2L1039.2,803.6Z" fill="#ff0090"/>
<path d="M1038.2,797.2H1060.2L1049.2,777.4Z" fill="#ff0090"/>
<path d="M1047.4,774.1H1069.4L1058.4,754.3Z" fill="#ff0090"/>
<path d="M1060.9,747.8H1082.9L1071.9,728.0Z" fill="#ff0090"/>
<path d="M1070.2,730.9H1092.2L1081.2,711.1Z" fill="#ff0090"/>
<path d="M1078.7,718.3H1100.7L1089.7,698.5Z" fill="#ff0090"/>
<path d="M1088.7,707.0H1110.7L1099.7,687.2Z" fill="#ff0090"/>
<path d="M1097.8,702.3H1119.8L1108.8,682.5Z" fill="#ff0090"/>
<path d="M1107.3,703.9H1129.3L1118.3,684.1Z" fill="#ff0090"/>
<path d="M1117.5,708.1H1139.5L1128.5,688.3Z" fill="#ff0090"/>
<path d="M1127.0,713.5H1149.0L1138.0,693.7Z" fill="#ff0090"/>
<path d="M1137.3,719.0H1159.3L1148.3,699.2Z" fill="#ff0090"/>
<path d="M1147.5,718.0H1169.5L1158.5,698.2Z" fill="#ff0090"/>
<path d="M1161.4,722.4H1183.4L1172.4,702.6Z" fill="#ff0090"/>
<rect x="233.2" y="722.0" width="19.0" height="19.0" fill="#847400"/>
<rect x="243.5" y="719.1" width="19.0" height="19.0" fill="#847400"/>
<rect x="255.3" y="713.9" width="19.0" height="19.0" fill="#847400"/>
<rect x="268.0" y="697.0" width="19.0" height="19.0" fill="#847400"/>
<rect x="278.1" y="682.9" width="19.0" height="19.0" fill="#847400"/>
<rect x="287.7" y="662.4" width="19.0" height="19.0" fill="#847400"/>
<rect x="297.5" y="635.3" width="19.0" height="19.0" fill="#847400"/>
<rect x="307.5" y="609.0" width="19.0" height="19.0" fill="#847400"/>
<rect x="317.0" y="582.0" width="19.0" height="19.0" fill="#847400"/>
<rect x="326.8" y="555.1" width="19.0" height="19.0" fill="#847400"/>
<rect x="336.6" y="531.3" width="19.0" height="19.0" fill="#847400"/>
<rect x="346.0" y="501.1" width="19.0" height="19.0" fill="#847400"/>
<rect x="354.7" y="480.7" width="19.0" height="19.0" fill="#847400"/>
<rect x="369.0" y="482.6" width="19.0" height="19.0" fill="#847400"/>
<rect x="378.8" y="505.4" width="19.0" height="19.0" fill="#847400"/>
<rect x="388.2" y="544.0" width="19.0" height="19.0" fill="#847400"/>
<rect x="398.1" y="592.0" width="19.0" height="19.0" fill="#847400"/>
<rect x="407.6" y="630.0" width="19.0" height="19.0" fill="#847400"/>
<rect x="416.6" y="652.8" width="19.0" height="19.0" fill="#847400"/>
<rect x="427.2" y="637.3" width="19.0" height="19.0" fill="#847400"/>
<rect x="436.7" y="607.3" width="19.0" height="19.0" fill="#847400"/>
<rect x="446.3" y="566.0" width="19.0" height="19.0" fill="#847400"/>
<rect x="456.5" y="524.3" width="19.0" height="19.0" fill="#847400"/>
<rect x="468.2" y="493.8" width="19.0" height="19.0" fill="#847400"/>
<rect x="479.0" y="471.2" width="19.0" height="19.0" fill="#847400"/>
<rect x="488.7" y="448.8" width="19.0" height="19.0" fill="#847400"/>
<rect x="498.8" y="416.7" width="19.0" height="19.0" fill="#847400"/>
<rect x="508.3" y="370.5" width="19.0" height="19.0" fill="#847400"/>
<rect x="517.9" y="325.0" width="19.0" height="19.0" fill="#847400"/>
<rect x="527.3" y="286.1" width="19.0" height="19.0" fill="#847400"/>
<rect x="537.4" y="256.1" width="19.0" height="19.0" fill="#847400"/>
<rect x="546.1" y="239.1" width="19.0" height="19.0" fill="#847400"/>
<rect x="559.5" y="238.3" width="19.0" height="19.0" fill="#847400"/>
<rect x="570.2" y="253.2" width="19.0" height="19.0" fill="#847400"/>
<rect x="579.5" y="283.4" width="19.0" height="19.0" fill="#847400"/>
<rect x="588.9" y="331.7" width="19.0" height="19.0" fill="#847400"/>
<rect x="598.8" y="386.8" width="19.0" height="19.0" fill="#847400"/>
<rect x="608.7" y="454.9" width="19.0" height="19.0" fill="#847400"/>
<rect x="618.6" y="524.6" width="19.0" height="19.0" fill="#847400"/>
<rect x="628.0" y="574.5" width="19.0" height="19.0" fill="#847400"/>
<rect x="636.7" y="607.4" width="19.0" height="19.0" fill="#847400"/>
<rect x="646.7" y="622.0" width="19.0" height="19.0" fill="#847400"/>
<rect x="660.1" y="622.0" width="19.0" height="19.0" fill="#847400"/>
<rect x="670.2" y="610.0" width="19.0" height="19.0" fill="#847400"/>
<rect x="680.2" y="588.9" width="19.0" height="19.0" fill="#847400"/>
<rect x="689.6" y="559.0" width="19.0" height="19.0" fill="#847400"/>
<rect x="699.6" y="523.2" width="19.0" height="19.0" fill="#847400"/>
<rect x="709.1" y="476.3" width="19.0" height="19.0" fill="#847400"/>
<rect x="718.5" y="425.9" width="19.0" height="19.0" fill="#847400"/>
<rect x="727.9" y="373.7" width="19.0" height="19.0" fill="#847400"/>
<rect x="738.0" y="341.7" width="19.0" height="19.0" fill="#847400"/>
<rect x="748.1" y="328.3" width="19.0" height="19.0" fill="#847400"/>
<rect x="760.8" y="341.7" width="19.0" height="19.0" fill="#847400"/>
<rect x="770.8" y="389.9" width="19.0" height="19.0" fill="#847400"/>
<rect x="780.3" y="468.1" width="19.0" height="19.0" fill="#847400"/>
<rect x="790.2" y="575.0" width="19.0" height="19.0" fill="#847400"/>
<rect x="799.7" y="674.2" width="19.0" height="19.0" fill="#847400"/>
<rect x="809.7" y="769.6" width="19.0" height="19.0" fill="#847400"/>
<rect x="819.3" y="847.1" width="19.0" height="19.0" fill="#847400"/>
<rect x="829.1" y="902.1" width="19.0" height="19.0" fill="#847400"/>
<rect x="837.3" y="925.5" width="19.0" height="19.0" fill="#847400"/>
<rect x="848.5" y="928.5" width="19.0" height="19.0" fill="#847400"/>
<rect x="861.6" y="912.2" width="19.0" height="19.0" fill="#847400"/>
<rect x="870.9" y="882.7" width="19.0" height="19.0" fill="#847400"/>
<rect x="880.9" y="856.5" width="19.0" height="19.0" fill="#847400"/>
<rect x="890.2" y="837.8" width="19.0" height="19.0" fill="#847400"/>
<rect x="898.9" y="829.1" width="19.0" height="19.0" fill="#847400"/>
<rect x="909.7" y="839.0" width="19.0" height="19.0" fill="#847400"/>
<rect x="919.5" y="863.7" width="19.0" height="19.0" fill="#847400"/>
<rect x="929.8" y="893.2" width="19.0" height="19.0" fill="#847400"/>
<rect x="939.3" y="929.0" width="19.0" height="19.0" fill="#847400"/>
<rect x="949.3" y="954.3" width="19.0" height="19.0" fill="#847400"/>
<rect x="959.4" y="967.7" width="19.0" height="19.0" fill="#847400"/>
<rect x="972.1" y="964.0" width="19.0" height="19.0" fill="#847400"/>
<rect x="981.5" y="946.1" width="19.0" height="19.0" fill="#847400"/>
<rect x="991.5" y="921.3" width="19.0" height="19.0" fill="#847400"/>
<rect x="1000.9" y="890.2" width="19.0" height="19.0" fill="#847400"/>
<rect x="1010.2" y="863.2" width="19.0" height="19.0" fill="#847400"/>
<rect x="1020.4" y="842.3" width="19.0" height="19.0" fill="#847400"/>
<rect x="1029.7" y="821.1" width="19.0" height="19.0" fill="#847400"/>
<rect x="1039.7" y="797.5" width="19.0" height="19.0" fill="#847400"/>
<rect x="1048.9" y="777.7" width="19.0" height="19.0" fill="#847400"/>
<rect x="1062.4" y="756.5" width="19.0" height="19.0" fill="#847400"/>
<rect x="1071.7" y="743.1" width="19.0" height="19.0" fill="#847400"/>
<rect x="1080.2" y="733.6" width="19.0" height="19.0" fill="#847400"/>
<rect x="1090.2" y="726.9" width="19.0" height="19.0" fill="#847400"/>
<rect x="1099.3" y="723.6" width="19.0" height="19.0" fill="#847400"/>
<rect x="1108.8" y="715.9" width="19.0" height="19.0" fill="#847400"/>
<rect x="1119.0" y="705.9" width="19.0" height="19.0" fill="#847400"/>
<rect x="1128.5" y="699.4" width="19.0" height="19.0" fill="#847400"/>
<rect x="1138.8" y="692.2" width="19.0" height="19.0" fill="#847400"/>
<rect x="1149.0" y="691.9" width="19.0" height="19.0" fill="#847400"/>
<rect x="1162.9" y="701.0" width="19.0" height="19.0" fill="#847400"/>
<rect x="232.7" y="724.5" width="20.0" height="20.0" fill="none" stroke="#1070ff" stroke-width="3"/>
<rect x="243.0" y="723.6" width="20.0" height="20.0" fill="none" stroke="#1070ff" stroke-width="3"/>
<rect x="254.8" y="721.0" width="20.0" height="20.0" fill="none" stroke="#1070ff" stroke-width="3"/>
<rect x="267.5" y="706.8" width="20.0" height="20.0" fill="none" stroke="#1070ff" stroke-width="3"/>
<rect x="277.6" y="694.7" width="20.0" height="20.0" fill="none" stroke="#1070ff" stroke-width="3"/>
<rect x="287.2" y="676.2" width="20.0" height="20.0" fill="none" stroke="#1070ff" stroke-width="3"/>
<rect x="297.0" y="651.3" width="20.0" height="20.0" fill="none" stroke="#1070ff" stroke-width="3"/>
<rect x="307.0" y="627.0" width="20.0" height="20.0" fill="none" stroke="#1070ff" stroke-width="3"/>
<rect x="316.5" y="598.9" width="20.0" height="20.0" fill="none" stroke="#1070ff" stroke-width="3"/>
<rect x="326.3" y="570.4" width="20.0" height="20.0" fill="none" stroke="#1070ff" stroke-width="3"/>
<rect x="336.1" y="544.7" width="20.0" height="20.0" fill="none" stroke="#1070ff" stroke-width="3"/>
<rect x="345.5" y="512.7" width="20.0" height="20.0" fill="none" stroke="#1070ff" stroke-width="3"/>
<rect x="354.2" y="490.3" width="20.0" height="20.0" fill="none" stroke="#1070ff" stroke-width="3"/>
<rect x="368.5" y="487.9" width="20.0" height="20.0" fill="none" stroke="#1070ff" stroke-width="3"/>
<rect x="378.3" y="507.7" width="20.0" height="20.0" fill="none" stroke="#1070ff" stroke-width="3"/>
<rect x="387.7" y="543.5" width="20.0" height="20.0" fill="none" stroke="#1070ff" stroke-width="3"/>
<rect x="397.6" y="587.1" width="20.0" height="20.0" fill="none" stroke="#1070ff" stroke-width="3"/>
<rect x="407.1" y="620.1" width="20.0" height="20.0" fill="none" stroke="#1070ff" stroke-width="3"/>
<rect x="416.1" y="638.3" width="20.0" height="20.0" fill="none" stroke="#1070ff" stroke-width="3"/>
<rect x="426.7" y="624.5" width="20.0" height="20.0" fill="none" stroke="#1070ff" stroke-width="3"/>
<rect x="436.2" y="595.9" width="20.0" height="20.0" fill="none" stroke="#1070ff" stroke-width="3"/>
<rect x="445.8" y="555.1" width="20.0" height="20.0" fill="none" stroke="#1070ff" stroke-width="3"/>
<rect x="456.0" y="514.2" width="20.0" height="20.0" fill="none" stroke="#1070ff" stroke-width="3"/>
<rect x="467.7" y="483.5" width="20.0" height="20.0" fill="none" stroke="#1070ff" stroke-width="3"/>
<rect x="478.5" y="459.8" width="20.0" height="20.0" fill="none" stroke="#1070ff" stroke-width="3"/>
<rect x="488.2" y="436.5" width="20.0" height="20.0" fill="none" stroke="#1070ff" stroke-width="3"/>
<rect x="498.3" y="405.9" width="20.0" height="20.0" fill="none" stroke="#1070ff" stroke-width="3"/>
<rect x="507.8" y="361.6" width="20.0" height="20.0" fill="none" stroke="#1070ff" stroke-width="3"/>
<rect x="517.4" y="315.0" width="20.0" height="20.0" fill="none" stroke="#1070ff" stroke-width="3"/>
<rect x="526.8" y="274.2" width="20.0" height="20.0" fill="none" stroke="#1070ff" stroke-width="3"/>
<rect x="536.9" y="261.0" width="20.0" height="20.0" fill="none" stroke="#1070ff" stroke-width="3"/>
<rect x="545.6" y="246.1" width="20.0" height="20.0" fill="none" stroke="#1070ff" stroke-width="3"/>
<rect x="559.0" y="246.2" width="20.0" height="20.0" fill="none" stroke="#1070ff" stroke-width="3"/>
<rect x="569.7" y="260.2" width="20.0" height="20.0" fill="none" stroke="#1070ff" stroke-width="3"/>
<rect x="579.0" y="293.1" width="20.0" height="20.0" fill="none" stroke="#1070ff" stroke-width="3"/>
<rect x="588.4" y="345.5" width="20.0" height="20.0" fill="none" stroke="#1070ff" stroke-width="3"/>
<rect x="598.3" y="399.8" width="20.0" height="20.0" fill="none" stroke="#1070ff" stroke-width="3"/>
<rect x="608.2" y="466.2" width="20.0" height="20.0" fill="none" stroke="#1070ff" stroke-width="3"/>
<rect x="618.1" y="526.2" width="20.0" height="20.0" fill="none" stroke="#1070ff" stroke-width="3"/>
<rect x="627.5" y="570.0" width="20.0" height="20.0" fill="none" stroke="#1070ff" stroke-width="3"/>
<rect x="636.2" y="598.4" width="20.0" height="20.0" fill="none" stroke="#1070ff" stroke-width="3"/>
<rect x="646.2" y="608.5" width="20.0" height="20.0" fill="none" stroke="#1070ff" stroke-width="3"/>
<rect x="659.6" y="608.5" width="20.0" height="20.0" fill="none" stroke="#1070ff" stroke-width="3"/>
<rect x="669.7" y="596.3" width="20.0" height="20.0" fill="none" stroke="#1070ff" stroke-width="3"/>
<rect x="679.7" y="577.6" width="20.0" height="20.0" fill="none" stroke="#1070ff" stroke-width="3"/>
<rect x="689.1" y="554.8" width="20.0" height="20.0" fill="none" stroke="#1070ff" stroke-width="3"/>
<rect x="699.1" y="525.6" width="20.0" height="20.0" fill="none" stroke="#1070ff" stroke-width="3"/>
<rect x="708.6" y="480.3" width="20.0" height="20.0" fill="none" stroke="#1070ff" stroke-width="3"/>
<rect x="718.0" y="431.0" width="20.0" height="20.0" fill="none" stroke="#1070ff" stroke-width="3"/>
<rect x="727.4" y="378.3" width="20.0" height="20.0" fill="none" stroke="#1070ff" stroke-width="3"/>
<rect x="737.5" y="345.8" width="20.0" height="20.0" fill="none" stroke="#1070ff" stroke-width="3"/>
<rect x="747.6" y="331.9" width="20.0" height="20.0" fill="none" stroke="#1070ff" stroke-width="3"/>
<rect x="760.3" y="344.7" width="20.0" height="20.0" fill="none" stroke="#1070ff" stroke-width="3"/>
<rect x="770.3" y="392.4" width="20.0" height="20.0" fill="none" stroke="#1070ff" stroke-width="3"/>
<rect x="779.8" y="470.1" width="20.0" height="20.0" fill="none" stroke="#1070ff" stroke-width="3"/>
<rect x="789.7" y="566.8" width="20.0" height="20.0" fill="none" stroke="#1070ff" stroke-width="3"/>
<rect x="799.2" y="672.9" width="20.0" height="20.0" fill="none" stroke="#1070ff" stroke-width="3"/>
<rect x="809.2" y="770.1" width="20.0" height="20.0" fill="none" stroke="#1070ff" stroke-width="3"/>
<rect x="818.8" y="847.2" width="20.0" height="20.0" fill="none" stroke="#1070ff" stroke-width="3"/>
<rect x="828.6" y="901.7" width="20.0" height="20.0" fill="none" stroke="#1070ff" stroke-width="3"/>
<rect x="836.8" y="924.7" width="20.0" height="20.0" fill="none" stroke="#1070ff" stroke-width="3"/>
<rect x="848.0" y="927.1" width="20.0" height="20.0" fill="none" stroke="#1070ff" stroke-width="3"/>
<rect x="861.1" y="910.1" width="20.0" height="20.0" fill="none" stroke="#1070ff" stroke-width="3"/>
<rect x="870.4" y="880.2" width="20.0" height="20.0" fill="none" stroke="#1070ff" stroke-width="3"/>
<rect x="880.4" y="853.5" width="20.0" height="20.0" fill="none" stroke="#1070ff" stroke-width="3"/>
<rect x="889.7" y="834.3" width="20.0" height="20.0" fill="none" stroke="#1070ff" stroke-width="3"/>
<rect x="898.4" y="823.2" width="20.0" height="20.0" fill="none" stroke="#1070ff" stroke-width="3"/>
<rect x="909.2" y="829.9" width="20.0" height="20.0" fill="none" stroke="#1070ff" stroke-width="3"/>
<rect x="919.0" y="851.8" width="20.0" height="20.0" fill="none" stroke="#1070ff" stroke-width="3"/>
<rect x="929.3" y="880.7" width="20.0" height="20.0" fill="none" stroke="#1070ff" stroke-width="3"/>
<rect x="938.8" y="916.1" width="20.0" height="20.0" fill="none" stroke="#1070ff" stroke-width="3"/>
<rect x="948.8" y="940.9" width="20.0" height="20.0" fill="none" stroke="#1070ff" stroke-width="3"/>
<rect x="958.9" y="953.8" width="20.0" height="20.0" fill="none" stroke="#1070ff" stroke-width="3"/>
<rect x="971.6" y="949.7" width="20.0" height="20.0" fill="none" stroke="#1070ff" stroke-width="3"/>
<rect x="981.0" y="933.2" width="20.0" height="20.0" fill="none" stroke="#1070ff" stroke-width="3"/>
<rect x="991.0" y="910.0" width="20.0" height="20.0" fill="none" stroke="#1070ff" stroke-width="3"/>
<rect x="1000.4" y="880.1" width="20.0" height="20.0" fill="none" stroke="#1070ff" stroke-width="3"/>
<rect x="1009.7" y="850.8" width="20.0" height="20.0" fill="none" stroke="#1070ff" stroke-width="3"/>
<rect x="1019.9" y="827.3" width="20.0" height="20.0" fill="none" stroke="#1070ff" stroke-width="3"/>
<rect x="1029.2" y="803.8" width="20.0" height="20.0" fill="none" stroke="#1070ff" stroke-width="3"/>
<rect x="1039.2" y="777.7" width="20.0" height="20.0" fill="none" stroke="#1070ff" stroke-width="3"/>
<rect x="1048.4" y="754.6" width="20.0" height="20.0" fill="none" stroke="#1070ff" stroke-width="3"/>
<rect x="1061.9" y="728.3" width="20.0" height="20.0" fill="none" stroke="#1070ff" stroke-width="3"/>
<rect x="1071.2" y="711.4" width="20.0" height="20.0" fill="none" stroke="#1070ff" stroke-width="3"/>
<rect x="1079.7" y="698.9" width="20.0" height="20.0" fill="none" stroke="#1070ff" stroke-width="3"/>
<rect x="1089.7" y="688.5" width="20.0" height="20.0" fill="none" stroke="#1070ff" stroke-width="3"/>
<rect x="1098.8" y="682.3" width="20.0" height="20.0" fill="none" stroke="#1070ff" stroke-width="3"/>
<rect x="1108.3" y="682.2" width="20.0" height="20.0" fill="none" stroke="#1070ff" stroke-width="3"/>
<rect x="1118.5" y="682.0" width="20.0" height="20.0" fill="none" stroke="#1070ff" stroke-width="3"/>
<rect x="1128.0" y="683.4" width="20.0" height="20.0" fill="none" stroke="#1070ff" stroke-width="3"/>
<rect x="1138.3" y="684.9" width="20.0" height="20.0" fill="none" stroke="#1070ff" stroke-width="3"/>
<rect x="1148.5" y="688.3" width="20.0" height="20.0" fill="none" stroke="#1070ff" stroke-width="3"/>
<rect x="1162.4" y="698.5" width="20.0" height="20.0" fill="none" stroke="#1070ff" stroke-width="3"/>
<rect x="232.7" y="707.5" width="20.0" height="20.0" fill="none" stroke="#00f0ff" stroke-width="3"/>
<rect x="243.0" y="708.0" width="20.0" height="20.0" fill="none" stroke="#00f0ff" stroke-width="3"/>
<rect x="254.8" y="706.9" width="20.0" height="20.0" fill="none" stroke="#00f0ff" stroke-width="3"/>
<rect x="267.5" y="694.3" width="20.0" height="20.0" fill="none" stroke="#00f0ff" stroke-width="3"/>
<rect x="277.6" y="683.6" width="20.0" height="20.0" fill="none" stroke="#00f0ff" stroke-width="3"/>
<rect x="287.2" y="666.3" width="20.0" height="20.0" fill="none" stroke="#00f0ff" stroke-width="3"/>
<rect x="297.0" y="646.3" width="20.0" height="20.0" fill="none" stroke="#00f0ff" stroke-width="3"/>
<rect x="307.0" y="628.7" width="20.0" height="20.0" fill="none" stroke="#00f0ff" stroke-width="3"/>
<rect x="316.5" y="606.9" width="20.0" height="20.0" fill="none" stroke="#00f0ff" stroke-width="3"/>
<rect x="326.3" y="585.0" width="20.0" height="20.0" fill="none" stroke="#00f0ff" stroke-width="3"/>
<rect x="336.1" y="556.2" width="20.0" height="20.0" fill="none" stroke="#00f0ff" stroke-width="3"/>
<rect x="345.5" y="521.3" width="20.0" height="20.0" fill="none" stroke="#00f0ff" stroke-width="3"/>
<rect x="354.2" y="496.1" width="20.0" height="20.0" fill="none" stroke="#00f0ff" stroke-width="3"/>
<rect x="368.5" y="489.2" width="20.0" height="20.0" fill="none" stroke="#00f0ff" stroke-width="3"/>
<rect x="378.3" y="510.5" width="20.0" height="20.0" fill="none" stroke="#00f0ff" stroke-width="3"/>
<rect x="387.7" y="548.6" width="20.0" height="20.0" fill="none" stroke="#00f0ff" stroke-width="3"/>
<rect x="397.6" y="596.9" width="20.0" height="20.0" fill="none" stroke="#00f0ff" stroke-width="3"/>
<rect x="407.1" y="635.2" width="20.0" height="20.0" fill="none" stroke="#00f0ff" stroke-width="3"/>
<rect x="416.1" y="658.3" width="20.0" height="20.0" fill="none" stroke="#00f0ff" stroke-width="3"/>
<rect x="426.7" y="645.9" width="20.0" height="20.0" fill="none" stroke="#00f0ff" stroke-width="3"/>
<rect x="436.2" y="618.5" width="20.0" height="20.0" fill="none" stroke="#00f0ff" stroke-width="3"/>
<rect x="445.8" y="579.0" width="20.0" height="20.0" fill="none" stroke="#00f0ff" stroke-width="3"/>
<rect x="456.0" y="538.4" width="20.0" height="20.0" fill="none" stroke="#00f0ff" stroke-width="3"/>
<rect x="467.7" y="507.3" width="20.0" height="20.0" fill="none" stroke="#00f0ff" stroke-width="3"/>
<rect x="478.5" y="485.9" width="20.0" height="20.0" fill="none" stroke="#00f0ff" stroke-width="3"/>
<rect x="488.2" y="464.6" width="20.0" height="20.0" fill="none" stroke="#00f0ff" stroke-width="3"/>
<rect x="498.3" y="433.7" width="20.0" height="20.0" fill="none" stroke="#00f0ff" stroke-width="3"/>
<rect x="507.8" y="388.6" width="20.0" height="20.0" fill="none" stroke="#00f0ff" stroke-width="3"/>
<rect x="517.4" y="344.2" width="20.0" height="20.0" fill="none" stroke="#00f0ff" stroke-width="3"/>
<rect x="526.8" y="306.4" width="20.0" height="20.0" fill="none" stroke="#00f0ff" stroke-width="3"/>
<rect x="536.9" y="278.8" width="20.0" height="20.0" fill="none" stroke="#00f0ff" stroke-width="3"/>
<rect x="545.6" y="264.5" width="20.0" height="20.0" fill="none" stroke="#00f0ff" stroke-width="3"/>
<rect x="559.0" y="266.8" width="20.0" height="20.0" fill="none" stroke="#00f0ff" stroke-width="3"/>
<rect x="569.7" y="279.1" width="20.0" height="20.0" fill="none" stroke="#00f0ff" stroke-width="3"/>
<rect x="579.0" y="307.0" width="20.0" height="20.0" fill="none" stroke="#00f0ff" stroke-width="3"/>
<rect x="588.4" y="351.0" width="20.0" height="20.0" fill="none" stroke="#00f0ff" stroke-width="3"/>
<rect x="598.3" y="402.5" width="20.0" height="20.0" fill="none" stroke="#00f0ff" stroke-width="3"/>
<rect x="608.2" y="476.4" width="20.0" height="20.0" fill="none" stroke="#00f0ff" stroke-width="3"/>
<rect x="618.1" y="536.1" width="20.0" height="20.0" fill="none" stroke="#00f0ff" stroke-width="3"/>
<rect x="627.5" y="577.8" width="20.0" height="20.0" fill="none" stroke="#00f0ff" stroke-width="3"/>
<rect x="636.2" y="602.3" width="20.0" height="20.0" fill="none" stroke="#00f0ff" stroke-width="3"/>
<rect x="646.2" y="610.5" width="20.0" height="20.0" fill="none" stroke="#00f0ff" stroke-width="3"/>
<rect x="659.6" y="610.5" width="20.0" height="20.0" fill="none" stroke="#00f0ff" stroke-width="3"/>
<rect x="669.7" y="600.6" width="20.0" height="20.0" fill="none" stroke="#00f0ff" stroke-width="3"/>
<rect x="679.7" y="584.2" width="20.0" height="20.0" fill="none" stroke="#00f0ff" stroke-width="3"/>
<rect x="689.1" y="566.4" width="20.0" height="20.0" fill="none" stroke="#00f0ff" stroke-width="3"/>
<rect x="699.1" y="538.1" width="20.0" height="20.0" fill="none" stroke="#00f0ff" stroke-width="3"/>
<rect x="708.6" y="493.2" width="20.0" height="20.0" fill="none" stroke="#00f0ff" stroke-width="3"/>
<rect x="718.0" y="444.4" width="20.0" height="20.0" fill="none" stroke="#00f0ff" stroke-width="3"/>
<rect x="727.4" y="394.2" width="20.0" height="20.0" fill="none" stroke="#00f0ff" stroke-width="3"/>
<rect x="737.5" y="362.7" width="20.0" height="20.0" fill="none" stroke="#00f0ff" stroke-width="3"/>
<rect x="747.6" y="349.8" width="20.0" height="20.0" fill="none" stroke="#00f0ff" stroke-width="3"/>
<rect x="760.3" y="357.4" width="20.0" height="20.0" fill="none" stroke="#00f0ff" stroke-width="3"/>
<rect x="770.3" y="400.9" width="20.0" height="20.0" fill="none" stroke="#00f0ff" stroke-width="3"/>
<rect x="779.8" y="474.7" width="20.0" height="20.0" fill="none" stroke="#00f0ff" stroke-width="3"/>
<rect x="789.7" y="571.5" width="20.0" height="20.0" fill="none" stroke="#00f0ff" stroke-width="3"/>
<rect x="799.2" y="677.8" width="20.0" height="20.0" fill="none" stroke="#00f0ff" stroke-width="3"/>
<rect x="809.2" y="775.1" width="20.0" height="20.0" fill="none" stroke="#00f0ff" stroke-width="3"/>
<rect x="818.8" y="852.3" width="20.0" height="20.0" fill="none" stroke="#00f0ff" stroke-width="3"/>
<rect x="828.6" y="907.0" width="20.0" height="20.0" fill="none" stroke="#00f0ff" stroke-width="3"/>
<rect x="836.8" y="930.1" width="20.0" height="20.0" fill="none" stroke="#00f0ff" stroke-width="3"/>
<rect x="848.0" y="932.9" width="20.0" height="20.0" fill="none" stroke="#00f0ff" stroke-width="3"/>
<rect x="861.1" y="916.4" width="20.0" height="20.0" fill="none" stroke="#00f0ff" stroke-width="3"/>
<rect x="870.4" y="886.8" width="20.0" height="20.0" fill="none" stroke="#00f0ff" stroke-width="3"/>
<rect x="880.4" y="860.5" width="20.0" height="20.0" fill="none" stroke="#00f0ff" stroke-width="3"/>
<rect x="889.7" y="841.6" width="20.0" height="20.0" fill="none" stroke="#00f0ff" stroke-width="3"/>
<rect x="898.4" y="830.8" width="20.0" height="20.0" fill="none" stroke="#00f0ff" stroke-width="3"/>
<rect x="909.2" y="838.0" width="20.0" height="20.0" fill="none" stroke="#00f0ff" stroke-width="3"/>
<rect x="919.0" y="860.1" width="20.0" height="20.0" fill="none" stroke="#00f0ff" stroke-width="3"/>
<rect x="929.3" y="889.5" width="20.0" height="20.0" fill="none" stroke="#00f0ff" stroke-width="3"/>
<rect x="938.8" y="925.2" width="20.0" height="20.0" fill="none" stroke="#00f0ff" stroke-width="3"/>
<rect x="948.8" y="950.3" width="20.0" height="20.0" fill="none" stroke="#00f0ff" stroke-width="3"/>
<rect x="958.9" y="963.6" width="20.0" height="20.0" fill="none" stroke="#00f0ff" stroke-width="3"/>
<rect x="971.6" y="960.0" width="20.0" height="20.0" fill="none" stroke="#00f0ff" stroke-width="3"/>
<rect x="981.0" y="943.9" width="20.0" height="20.0" fill="none" stroke="#00f0ff" stroke-width="3"/>
<rect x="991.0" y="921.0" width="20.0" height="20.0" fill="none" stroke="#00f0ff" stroke-width="3"/>
<rect x="1000.4" y="891.5" width="20.0" height="20.0" fill="none" stroke="#00f0ff" stroke-width="3"/>
<rect x="1009.7" y="862.7" width="20.0" height="20.0" fill="none" stroke="#00f0ff" stroke-width="3"/>
<rect x="1019.9" y="839.6" width="20.0" height="20.0" fill="none" stroke="#00f0ff" stroke-width="3"/>
<rect x="1029.2" y="816.5" width="20.0" height="20.0" fill="none" stroke="#00f0ff" stroke-width="3"/>
<rect x="1039.2" y="790.8" width="20.0" height="20.0" fill="none" stroke="#00f0ff" stroke-width="3"/>
<rect x="1048.4" y="768.1" width="20.0" height="20.0" fill="none" stroke="#00f0ff" stroke-width="3"/>
<rect x="1061.9" y="742.4" width="20.0" height="20.0" fill="none" stroke="#00f0ff" stroke-width="3"/>
<rect x="1071.2" y="725.9" width="20.0" height="20.0" fill="none" stroke="#00f0ff" stroke-width="3"/>
<rect x="1079.7" y="713.8" width="20.0" height="20.0" fill="none" stroke="#00f0ff" stroke-width="3"/>
<rect x="1089.7" y="703.8" width="20.0" height="20.0" fill="none" stroke="#00f0ff" stroke-width="3"/>
<rect x="1098.8" y="700.3" width="20.0" height="20.0" fill="none" stroke="#00f0ff" stroke-width="3"/>
<rect x="1108.3" y="703.2" width="20.0" height="20.0" fill="none" stroke="#00f0ff" stroke-width="3"/>
<rect x="1118.5" y="706.1" width="20.0" height="20.0" fill="none" stroke="#00f0ff" stroke-width="3"/>
<rect x="1128.0" y="710.4" width="20.0" height="20.0" fill="none" stroke="#00f0ff" stroke-width="3"/>
<rect x="1138.3" y="714.7" width="20.0" height="20.0" fill="none" stroke="#00f0ff" stroke-width="3"/>
<rect x="1148.5" y="712.6" width="20.0" height="20.0" fill="none" stroke="#00f0ff" stroke-width="3"/>
<rect x="1162.4" y="715.5" width="20.0" height="20.0" fill="none" stroke="#00f0ff" stroke-width="3"/>
<path d="M231.7,709.6H253.7L242.7,729.4Z" fill="#0000ff"/>
<path d="M242.0,690.6H264.0L253.0,710.4Z" fill="#0000ff"/>
<path d="M253.8,687.6H275.8L264.8,707.4Z" fill="#0000ff"/>
<path d="M265.8,684.4H289.2L277.5,705.5Z" fill="#0000ff"/>
<path d="M274.8,673.0H300.4L287.6,696.0Z" fill="#0000ff"/>
<path d="M284.0,662.2H310.4L297.2,686.0Z" fill="#0000ff"/>
<path d="M293.6,640.8H320.4L307.0,665.0Z" fill="#0000ff"/>
<path d="M303.3,619.2H330.7L317.0,643.8Z" fill="#0000ff"/>
<path d="M312.6,599.8H340.4L326.5,624.8Z" fill="#0000ff"/>
<path d="M322.2,580.4H350.4L336.3,605.8Z" fill="#0000ff"/>
<path d="M331.9,554.1H360.3L346.1,579.8Z" fill="#0000ff"/>
<path d="M341.1,516.7H369.9L355.5,542.5Z" fill="#0000ff"/>
<path d="M349.7,489.2H378.7L364.2,515.3Z" fill="#0000ff"/>
<path d="M363.8,480.8H393.2L378.5,507.2Z" fill="#0000ff"/>
<path d="M373.5,497.0H403.1L388.3,523.7Z" fill="#0000ff"/>
<path d="M382.7,537.0H412.7L397.7,563.9Z" fill="#0000ff"/>
<path d="M392.6,583.1H422.6L407.6,610.1Z" fill="#0000ff"/>
<path d="M402.0,619.2H432.2L417.1,646.3Z" fill="#0000ff"/>
<path d="M411.0,640.5H441.2L426.1,667.7Z" fill="#0000ff"/>
<path d="M421.6,630.4H451.8L436.7,657.6Z" fill="#0000ff"/>
<path d="M431.1,604.6H461.3L446.2,631.8Z" fill="#0000ff"/>
<path d="M440.6,566.3H471.0L455.8,593.7Z" fill="#0000ff"/>
<path d="M450.8,527.1H481.2L466.0,554.5Z" fill="#0000ff"/>
<path d="M462.5,497.6H492.9L477.7,525.0Z" fill="#0000ff"/>
<path d="M473.2,475.0H503.8L488.5,502.4Z" fill="#0000ff"/>
<path d="M482.9,452.5H513.5L498.2,480.1Z" fill="#0000ff"/>
<path d="M493.0,421.5H523.6L508.3,449.1Z" fill="#0000ff"/>
<path d="M502.4,377.2H533.2L517.8,404.9Z" fill="#0000ff"/>
<path d="M512.0,333.7H542.8L527.4,361.4Z" fill="#0000ff"/>
<path d="M521.4,295.7H552.2L536.8,323.5Z" fill="#0000ff"/>
<path d="M531.4,270.0H562.4L546.9,297.8Z" fill="#0000ff"/>
<path d="M540.1,253.4H571.1L555.6,281.3Z" fill="#0000ff"/>
<path d="M553.5,250.9H584.5L569.0,278.8Z" fill="#0000ff"/>
<path d="M564.2,270.1H595.2L579.7,298.0Z" fill="#0000ff"/>
<path d="M573.5,298.1H604.5L589.0,325.9Z" fill="#0000ff"/>
<path d="M582.9,339.3H613.9L598.4,367.2Z" fill="#0000ff"/>
<path d="M592.8,395.2H623.8L608.3,423.1Z" fill="#0000ff"/>
<path d="M602.7,457.3H633.7L618.2,485.2Z" fill="#0000ff"/>
<path d="M612.6,511.2H643.6L628.1,539.1Z" fill="#0000ff"/>
<path d="M622.0,558.5H653.0L637.5,586.5Z" fill="#0000ff"/>
<path d="M630.8,589.3H661.6L646.2,617.1Z" fill="#0000ff"/>
<path d="M640.8,601.8H671.6L656.2,629.4Z" fill="#0000ff"/>
<path d="M654.3,607.4H684.9L669.6,634.9Z" fill="#0000ff"/>
<path d="M664.5,598.9H694.9L679.7,626.2Z" fill="#0000ff"/>
<path d="M674.6,584.3H704.8L689.7,611.5Z" fill="#0000ff"/>
<path d="M684.1,565.4H714.1L699.1,592.4Z" fill="#0000ff"/>
<path d="M694.0,532.6H724.2L709.1,559.7Z" fill="#0000ff"/>
<path d="M703.4,490.1H733.8L718.6,517.4Z" fill="#0000ff"/>
<path d="M712.8,443.7H743.2L728.0,471.1Z" fill="#0000ff"/>
<path d="M722.1,389.4H752.7L737.4,417.0Z" fill="#0000ff"/>
<path d="M732.1,319.7H762.9L747.5,347.4Z" fill="#0000ff"/>
<path d="M742.1,316.4H773.1L757.6,344.3Z" fill="#0000ff"/>
<path d="M754.9,317.1H785.7L770.3,344.9Z" fill="#0000ff"/>
<path d="M764.9,359.8H795.7L780.3,387.4Z" fill="#0000ff"/>
<path d="M774.5,443.7H805.1L789.8,471.2Z" fill="#0000ff"/>
<path d="M784.5,550.8H814.9L799.7,578.2Z" fill="#0000ff"/>
<path d="M794.1,663.8H824.3L809.2,691.1Z" fill="#0000ff"/>
<path d="M804.1,764.1H834.3L819.2,791.2Z" fill="#0000ff"/>
<path d="M813.8,842.6H843.8L828.8,869.6Z" fill="#0000ff"/>
<path d="M823.9,892.6H853.3L838.6,919.0Z" fill="#0000ff"/>
<path d="M832.5,916.1H861.1L846.8,941.9Z" fill="#0000ff"/>
<path d="M844.1,919.5H871.9L858.0,944.5Z" fill="#0000ff"/>
<path d="M857.7,903.7H884.5L871.1,927.7Z" fill="#0000ff"/>
<path d="M867.4,874.4H893.4L880.4,897.8Z" fill="#0000ff"/>
<path d="M878.2,846.2H902.6L890.4,868.2Z" fill="#0000ff"/>
<path d="M888.2,833.7H911.2L899.7,854.5Z" fill="#0000ff"/>
<path d="M897.5,823.5H919.3L908.4,843.1Z" fill="#0000ff"/>
<path d="M909.1,831.2H929.3L919.2,849.3Z" fill="#0000ff"/>
<path d="M919.5,853.6H938.5L929.0,870.8Z" fill="#0000ff"/>
<path d="M930.3,877.5H948.3L939.3,893.7Z" fill="#0000ff"/>
<path d="M939.8,878.1H957.8L948.8,894.3Z" fill="#0000ff"/>
<path d="M949.8,900.7H967.8L958.8,916.9Z" fill="#0000ff"/>
<path d="M959.9,918.1H977.9L968.9,934.3Z" fill="#0000ff"/>
<path d="M972.6,931.2H990.6L981.6,947.4Z" fill="#0000ff"/>
<path d="M982.0,909.7H1000.0L991.0,925.9Z" fill="#0000ff"/>
<path d="M992.0,880.9H1010.0L1001.0,897.1Z" fill="#0000ff"/>
<path d="M1001.4,851.8H1019.4L1010.4,868.0Z" fill="#0000ff"/>
<path d="M1010.5,830.3H1028.9L1019.7,846.8Z" fill="#0000ff"/>
<path d="M1020.5,815.3H1039.3L1029.9,832.2Z" fill="#0000ff"/>
<path d="M1029.6,798.5H1048.8L1039.2,815.7Z" fill="#0000ff"/>
<path d="M1039.4,779.4H1059.0L1049.2,797.0Z" fill="#0000ff"/>
<path d="M1048.4,756.8H1068.4L1058.4,774.8Z" fill="#0000ff"/>
<path d="M1061.9,740.8H1081.9L1071.9,758.8Z" fill="#0000ff"/>
<path d="M1071.2,727.4H1091.2L1081.2,745.4Z" fill="#0000ff"/>
<path d="M1079.7,710.4H1099.7L1089.7,728.4Z" fill="#0000ff"/>
<path d="M1089.7,694.7H1109.7L1099.7,712.7Z" fill="#0000ff"/>
<path d="M1098.8,689.9H1118.8L1108.8,707.9Z" fill="#0000ff"/>
<path d="M1108.3,691.5H1128.3L1118.3,709.5Z" fill="#0000ff"/>
<path d="M1118.5,693.0H1138.5L1128.5,711.0Z" fill="#0000ff"/>
<path d="M1128.0,696.1H1148.0L1138.0,714.1Z" fill="#0000ff"/>
<path d="M1138.3,699.0H1158.3L1148.3,717.0Z" fill="#0000ff"/>
<path d="M1148.5,695.5H1168.5L1158.5,713.5Z" fill="#0000ff"/>
<path d="M1162.4,696.5H1182.4L1172.4,714.5Z" fill="#0000ff"/>
<path d="M242.7,717.0L255.2,729.5L242.7,742.0L230.2,729.5Z" fill="#00c8ff"/>
<path d="M253.0,712.7L265.5,725.2L253.0,737.7L240.5,725.2Z" fill="#00c8ff"/>
<path d="M264.8,706.0L277.3,718.5L264.8,731.0L252.3,718.5Z" fill="#00c8ff"/>
<path d="M277.5,680.2L290.0,692.7L277.5,705.2L265.0,692.7Z" fill="#00c8ff"/>
<path d="M287.6,664.2L300.1,676.7L287.6,689.2L275.1,676.7Z" fill="#00c8ff"/>
<path d="M297.2,654.5L309.7,667.0L297.2,679.5L284.7,667.0Z" fill="#00c8ff"/>
<path d="M307.0,638.2L319.5,650.7L307.0,663.2L294.5,650.7Z" fill="#00c8ff"/>
<path d="M317.0,622.5L329.5,635.0L317.0,647.5L304.5,635.0Z" fill="#00c8ff"/>
<path d="M326.5,602.6L339.0,615.1L326.5,627.6L314.0,615.1Z" fill="#00c8ff"/>
<path d="M336.3,582.4L348.8,594.9L336.3,607.4L323.8,594.9Z" fill="#00c8ff"/>
<path d="M346.1,551.3L358.6,563.8L346.1,576.3L333.6,563.8Z" fill="#00c8ff"/>
<path d="M355.5,514.0L368.0,526.5L355.5,539.0L343.0,526.5Z" fill="#00c8ff"/>
<path d="M364.2,486.7L376.7,499.2L364.2,511.7L351.7,499.2Z" fill="#00c8ff"/>
<path d="M378.5,477.4L391.0,489.9L378.5,502.4L366.0,489.9Z" fill="#00c8ff"/>
<path d="M388.3,492.9L400.8,505.4L388.3,517.9L375.8,505.4Z" fill="#00c8ff"/>
<path d="M397.7,534.2L410.2,546.7L397.7,559.2L385.2,546.7Z" fill="#00c8ff"/>
<path d="M407.6,585.9L420.1,598.4L407.6,610.9L395.1,598.4Z" fill="#00c8ff"/>
<path d="M417.1,627.4L429.6,639.9L417.1,652.4L404.6,639.9Z" fill="#00c8ff"/>
<path d="M426.1,649.1L438.6,661.6L426.1,674.1L413.6,661.6Z" fill="#00c8ff"/>
<path d="M436.7,636.8L449.2,649.3L436.7,661.8L424.2,649.3Z" fill="#00c8ff"/>
<path d="M446.2,609.5L458.7,622.0L446.2,634.5L433.7,622.0Z" fill="#00c8ff"/>
<path d="M455.8,570.2L468.3,582.7L455.8,595.2L443.3,582.7Z" fill="#00c8ff"/>
<path d="M466.0,529.7L478.5,542.2L466.0,554.7L453.5,542.2Z" fill="#00c8ff"/>
<path d="M477.7,498.8L490.2,511.3L477.7,523.8L465.2,511.3Z" fill="#00c8ff"/>
<path d="M488.5,477.9L501.0,490.4L488.5,502.9L476.0,490.4Z" fill="#00c8ff"/>
<path d="M498.2,457.1L510.7,469.6L498.2,482.1L485.7,469.6Z" fill="#00c8ff"/>
<path d="M508.3,426.6L520.8,439.1L508.3,451.6L495.8,439.1Z" fill="#00c8ff"/>
<path d="M517.8,381.9L530.3,394.4L517.8,406.9L505.3,394.4Z" fill="#00c8ff"/>
<path d="M527.4,338.0L539.9,350.5L527.4,363.0L514.9,350.5Z" fill="#00c8ff"/>
<path d="M536.8,300.6L549.3,313.1L536.8,325.6L524.3,313.1Z" fill="#00c8ff"/>
<path d="M546.9,273.8L559.4,286.3L546.9,298.8L534.4,286.3Z" fill="#00c8ff"/>
<path d="M555.6,260.1L568.1,272.6L555.6,285.1L543.1,272.6Z" fill="#00c8ff"/>
<path d="M569.0,258.5L581.5,271.0L569.0,283.5L556.5,271.0Z" fill="#00c8ff"/>
<path d="M579.7,269.8L592.2,282.3L579.7,294.8L567.2,282.3Z" fill="#00c8ff"/>
<path d="M589.0,296.7L601.5,309.2L589.0,321.7L576.5,309.2Z" fill="#00c8ff"/>
<path d="M598.4,343.0L610.9,355.5L598.4,368.0L585.9,355.5Z" fill="#00c8ff"/>
<path d="M608.3,396.6L620.8,409.1L608.3,421.6L595.8,409.1Z" fill="#00c8ff"/>
<path d="M618.2,463.2L630.7,475.7L618.2,488.2L605.7,475.7Z" fill="#00c8ff"/>
<path d="M628.1,523.4L640.6,535.9L628.1,548.4L615.6,535.9Z" fill="#00c8ff"/>
<path d="M637.5,567.5L650.0,580.0L637.5,592.5L625.0,580.0Z" fill="#00c8ff"/>
<path d="M646.2,595.1L658.7,607.6L646.2,620.1L633.7,607.6Z" fill="#00c8ff"/>
<path d="M656.2,604.0L668.7,616.5L656.2,629.0L643.7,616.5Z" fill="#00c8ff"/>
<path d="M669.6,604.0L682.1,616.5L669.6,629.0L657.1,616.5Z" fill="#00c8ff"/>
<path d="M679.7,593.1L692.2,605.6L679.7,618.1L667.2,605.6Z" fill="#00c8ff"/>
<path d="M689.7,575.7L702.2,588.2L689.7,600.7L677.2,588.2Z" fill="#00c8ff"/>
<path d="M699.1,559.7L711.6,572.2L699.1,584.7L686.6,572.2Z" fill="#00c8ff"/>
<path d="M709.1,530.4L721.6,542.9L709.1,555.4L696.6,542.9Z" fill="#00c8ff"/>
<path d="M718.6,484.2L731.1,496.7L718.6,509.2L706.1,496.7Z" fill="#00c8ff"/>
<path d="M728.0,434.2L740.5,446.7L728.0,459.2L715.5,446.7Z" fill="#00c8ff"/>
<path d="M737.4,380.7L749.9,393.2L737.4,405.7L724.9,393.2Z" fill="#00c8ff"/>
<path d="M747.5,347.4L760.0,359.9L747.5,372.4L735.0,359.9Z" fill="#00c8ff"/>
<path d="M757.6,332.6L770.1,345.1L757.6,357.6L745.1,345.1Z" fill="#00c8ff"/>
<path d="M770.3,332.8L782.8,345.3L770.3,357.8L757.8,345.3Z" fill="#00c8ff"/>
<path d="M780.3,368.8L792.8,381.2L780.3,393.8L767.8,381.2Z" fill="#00c8ff"/>
<path d="M789.8,442.2L802.3,454.7L789.8,467.2L777.3,454.7Z" fill="#00c8ff"/>
<path d="M799.7,532.5L812.2,545.0L799.7,557.5L787.2,545.0Z" fill="#00c8ff"/>
<path d="M809.2,636.0L821.7,648.5L809.2,661.0L796.7,648.5Z" fill="#00c8ff"/>
<path d="M819.2,736.6L831.7,749.1L819.2,761.6L806.7,749.1Z" fill="#00c8ff"/>
<path d="M828.8,815.1L841.3,827.6L828.8,840.1L816.3,827.6Z" fill="#00c8ff"/>
<path d="M838.6,872.0L851.1,884.5L838.6,897.0L826.1,884.5Z" fill="#00c8ff"/>
<path d="M846.8,895.1L859.3,907.6L846.8,920.1L834.3,907.6Z" fill="#00c8ff"/>
<path d="M858.0,897.5L870.5,910.0L858.0,922.5L845.5,910.0Z" fill="#00c8ff"/>
<path d="M871.1,882.4L883.6,894.9L871.1,907.4L858.6,894.9Z" fill="#00c8ff"/>
<path d="M880.4,853.8L892.9,866.3L880.4,878.8L867.9,866.3Z" fill="#00c8ff"/>
<path d="M890.4,828.6L902.9,841.1L890.4,853.6L877.9,841.1Z" fill="#00c8ff"/>
<path d="M899.7,810.8L912.2,823.3L899.7,835.8L887.2,823.3Z" fill="#00c8ff"/>
<path d="M908.4,811.1L920.9,823.6L908.4,836.1L895.9,823.6Z" fill="#00c8ff"/>
<path d="M919.2,818.4L931.7,830.9L919.2,843.4L906.7,830.9Z" fill="#00c8ff"/>
<path d="M929.0,840.7L941.5,853.2L929.0,865.7L916.5,853.2Z" fill="#00c8ff"/>
<path d="M939.3,870.2L951.8,882.7L939.3,895.2L926.8,882.7Z" fill="#00c8ff"/>
<path d="M948.8,906.0L961.3,918.5L948.8,931.0L936.3,918.5Z" fill="#00c8ff"/>
<path d="M958.8,924.4L971.3,936.9L958.8,949.4L946.3,936.9Z" fill="#00c8ff"/>
<path d="M968.9,930.8L981.4,943.3L968.9,955.8L956.4,943.3Z" fill="#00c8ff"/>
<path d="M981.6,927.3L994.1,939.8L981.6,952.3L969.1,939.8Z" fill="#00c8ff"/>
<path d="M991.0,917.4L1003.5,929.9L991.0,942.4L978.5,929.9Z" fill="#00c8ff"/>
<path d="M1001.0,901.4L1013.5,913.9L1001.0,926.4L988.5,913.9Z" fill="#00c8ff"/>
<path d="M1010.4,878.1L1022.9,890.6L1010.4,903.1L997.9,890.6Z" fill="#00c8ff"/>
<path d="M1019.7,850.5L1032.2,863.0L1019.7,875.5L1007.2,863.0Z" fill="#00c8ff"/>
<path d="M1029.9,828.8L1042.4,841.3L1029.9,853.8L1017.4,841.3Z" fill="#00c8ff"/>
<path d="M1039.2,806.9L1051.7,819.4L1039.2,831.9L1026.7,819.4Z" fill="#00c8ff"/>
<path d="M1049.2,782.6L1061.7,795.1L1049.2,807.6L1036.7,795.1Z" fill="#00c8ff"/>
<path d="M1058.4,760.2L1070.9,772.7L1058.4,785.2L1045.9,772.7Z" fill="#00c8ff"/>
<path d="M1071.9,734.9L1084.4,747.4L1071.9,759.9L1059.4,747.4Z" fill="#00c8ff"/>
<path d="M1081.2,718.7L1093.7,731.2L1081.2,743.7L1068.7,731.2Z" fill="#00c8ff"/>
<path d="M1089.7,706.8L1102.2,719.3L1089.7,731.8L1077.2,719.3Z" fill="#00c8ff"/>
<path d="M1099.7,697.1L1112.2,709.6L1099.7,722.1L1087.2,709.6Z" fill="#00c8ff"/>
<path d="M1108.8,693.9L1121.3,706.4L1108.8,718.9L1096.3,706.4Z" fill="#00c8ff"/>
<path d="M1118.3,697.0L1130.8,709.5L1118.3,722.0L1105.8,709.5Z" fill="#00c8ff"/>
<path d="M1128.5,700.2L1141.0,712.7L1128.5,725.2L1116.0,712.7Z" fill="#00c8ff"/>
<path d="M1138.0,704.9L1150.5,717.4L1138.0,729.9L1125.5,717.4Z" fill="#00c8ff"/>
<path d="M1148.3,709.2L1160.8,721.7L1148.3,734.2L1135.8,721.7Z" fill="#00c8ff"/>
<path d="M1158.5,707.1L1171.0,719.6L1158.5,732.1L1146.0,719.6Z" fill="#00c8ff"/>
<path d="M1172.4,710.0L1184.9,722.5L1172.4,735.0L1159.9,722.5Z" fill="#00c8ff"/>
<path d="M231.7,719.6H253.7L242.7,739.4Z" fill="#008000"/>
<path d="M242.0,718.2H264.0L253.0,738.0Z" fill="#008000"/>
<path d="M253.8,714.9H275.8L264.8,734.7Z" fill="#008000"/>
<path d="M266.5,699.9H288.5L277.5,719.7Z" fill="#008000"/>
<path d="M276.6,687.3H298.6L287.6,707.1Z" fill="#008000"/>
<path d="M286.2,668.2H308.2L297.2,688.0Z" fill="#008000"/>
<path d="M296.0,642.7H318.0L307.0,662.5Z" fill="#008000"/>
<path d="M306.0,617.9H328.0L317.0,637.7Z" fill="#008000"/>
<path d="M315.5,589.2H337.5L326.5,609.0Z" fill="#008000"/>
<path d="M325.3,563.7H347.3L336.3,583.5Z" fill="#008000"/>
<path d="M335.1,543.0H357.1L346.1,562.8Z" fill="#008000"/>
<path d="M344.5,515.8H366.5L355.5,535.6Z" fill="#008000"/>
<path d="M353.2,497.7H375.2L364.2,517.5Z" fill="#008000"/>
<path d="M367.5,502.6H389.5L378.5,522.4Z" fill="#008000"/>
<path d="M377.3,524.7H399.3L388.3,544.5Z" fill="#008000"/>
<path d="M386.7,562.6H408.7L397.7,582.4Z" fill="#008000"/>
<path d="M396.6,603.1H418.6L407.6,622.9Z" fill="#008000"/>
<path d="M406.1,633.7H428.1L417.1,653.5Z" fill="#008000"/>
<path d="M415.1,649.5H437.1L426.1,669.3Z" fill="#008000"/>
<path d="M425.7,636.0H447.7L436.7,655.8Z" fill="#008000"/>
<path d="M435.2,609.4H457.2L446.2,629.2Z" fill="#008000"/>
<path d="M444.8,570.6H466.8L455.8,590.4Z" fill="#008000"/>
<path d="M455.0,530.8H477.0L466.0,550.6Z" fill="#008000"/>
<path d="M466.7,500.7H488.7L477.7,520.5Z" fill="#008000"/>
<path d="M477.5,477.5H499.5L488.5,497.3Z" fill="#008000"/>
<path d="M487.2,454.5H509.2L498.2,474.3Z" fill="#008000"/>
<path d="M497.3,422.0H519.3L508.3,441.8Z" fill="#008000"/>
<path d="M506.8,375.5H528.8L517.8,395.3Z" fill="#008000"/>
<path d="M516.4,329.7H538.4L527.4,349.5Z" fill="#008000"/>
<path d="M525.8,290.5H547.8L536.8,310.3Z" fill="#008000"/>
<path d="M535.9,261.4H557.9L546.9,281.2Z" fill="#008000"/>
<path d="M544.6,245.7H566.6L555.6,265.5Z" fill="#008000"/>
<path d="M558.0,245.8H580.0L569.0,265.6Z" fill="#008000"/>
<path d="M568.7,260.3H590.7L579.7,280.1Z" fill="#008000"/>
<path d="M578.0,290.0H600.0L589.0,309.8Z" fill="#008000"/>
<path d="M587.4,339.1H609.4L598.4,358.9Z" fill="#008000"/>
<path d="M597.3,393.8H619.3L608.3,413.6Z" fill="#008000"/>
<path d="M607.2,461.1H629.2L618.2,480.9Z" fill="#008000"/>
<path d="M617.1,522.1H639.1L628.1,541.9Z" fill="#008000"/>
<path d="M626.5,566.9H648.5L637.5,586.7Z" fill="#008000"/>
<path d="M635.2,585.8H657.2L646.2,605.6Z" fill="#008000"/>
<path d="M645.2,580.6H667.2L656.2,600.4Z" fill="#008000"/>
<path d="M658.6,580.6H680.6L669.6,600.4Z" fill="#008000"/>
<path d="M668.7,575.6H690.7L679.7,595.4Z" fill="#008000"/>
<path d="M678.7,564.2H700.7L689.7,584.0Z" fill="#008000"/>
<path d="M688.1,548.3H710.1L699.1,568.1Z" fill="#008000"/>
<path d="M698.1,520.4H720.1L709.1,540.2Z" fill="#008000"/>
<path d="M707.6,475.8H729.6L718.6,495.6Z" fill="#008000"/>
<path d="M717.0,427.2H739.0L728.0,447.0Z" fill="#008000"/>
<path d="M726.4,375.2H748.4L737.4,395.0Z" fill="#008000"/>
<path d="M736.5,343.3H758.5L747.5,363.1Z" fill="#008000"/>
<path d="M746.6,329.9H768.6L757.6,349.7Z" fill="#008000"/>
<path d="M759.3,343.4H781.3L770.3,363.2Z" fill="#008000"/>
<path d="M769.3,395.1H791.3L780.3,414.9Z" fill="#008000"/>
<path d="M778.8,476.6H800.8L789.8,496.4Z" fill="#008000"/>
<path d="M788.7,576.8H810.7L799.7,596.6Z" fill="#008000"/>
<path d="M798.2,684.5H820.2L809.2,704.3Z" fill="#008000"/>
<path d="M808.2,784.1H830.2L819.2,803.9Z" fill="#008000"/>
<path d="M817.8,855.6H839.8L828.8,875.4Z" fill="#008000"/>
<path d="M827.6,904.6H849.6L838.6,924.4Z" fill="#008000"/>
<path d="M835.8,919.2H857.8L846.8,939.0Z" fill="#008000"/>
<path d="M847.0,909.1H869.0L858.0,928.9Z" fill="#008000"/>
<path d="M860.1,899.4H882.1L871.1,919.1Z" fill="#008000"/>
<path d="M869.4,874.5H891.4L880.4,894.3Z" fill="#008000"/>
<path d="M879.4,853.3H901.4L890.4,873.1Z" fill="#008000"/>
<path d="M888.7,839.2H910.7L899.7,859.0Z" fill="#008000"/>
<path d="M897.4,828.8H919.4L908.4,848.6Z" fill="#008000"/>
<path d="M908.2,836.2H930.2L919.2,856.0Z" fill="#008000"/>
<path d="M918.0,858.6H940.0L929.0,878.4Z" fill="#008000"/>
<path d="M928.3,888.2H950.3L939.3,908.0Z" fill="#008000"/>
<path d="M937.8,924.1H959.8L948.8,943.9Z" fill="#008000"/>
<path d="M947.8,949.5H969.8L958.8,969.3Z" fill="#008000"/>
<path d="M957.9,963.0H979.9L968.9,982.8Z" fill="#008000"/>
<path d="M970.6,959.7H992.6L981.6,979.5Z" fill="#008000"/>
<path d="M980.0,943.8H1002.0L991.0,963.6Z" fill="#008000"/>
<path d="M990.0,921.1H1012.0L1001.0,940.9Z" fill="#008000"/>
<path d="M999.4,891.3H1021.4L1010.4,911.1Z" fill="#008000"/>
<path d="M1008.7,862.2H1030.7L1019.7,882.0Z" fill="#008000"/>
<path d="M1018.9,838.9H1040.9L1029.9,858.7Z" fill="#008000"/>
<path d="M1028.2,815.5H1050.2L1039.2,835.3Z" fill="#008000"/>
<path d="M1038.2,789.6H1060.2L1049.2,809.4Z" fill="#008000"/>
<path d="M1047.4,766.6H1069.4L1058.4,786.4Z" fill="#008000"/>
<path d="M1060.9,740.5H1082.9L1071.9,760.3Z" fill="#008000"/>
<path d="M1070.2,723.8H1092.2L1081.2,743.6Z" fill="#008000"/>
<path d="M1078.7,711.4H1100.7L1089.7,731.2Z" fill="#008000"/>
<path d="M1088.7,701.1H1110.7L1099.7,720.9Z" fill="#008000"/>
<path d="M1097.8,697.4H1119.8L1108.8,717.2Z" fill="#008000"/>
<path d="M1107.3,700.0H1129.3L1118.3,719.8Z" fill="#008000"/>
<path d="M1117.5,702.6H1139.5L1128.5,722.4Z" fill="#008000"/>
<path d="M1127.0,706.7H1149.0L1138.0,726.5Z" fill="#008000"/>
<path d="M1137.3,710.6H1159.3L1148.3,730.4Z" fill="#008000"/>
<path d="M1147.5,708.2H1169.5L1158.5,728.0Z" fill="#008000"/>
<path d="M1161.4,710.6H1183.4L1172.4,730.4Z" fill="#008000"/>
<rect x="233.7" y="711.5" width="18.0" height="18.0" fill="#00ff00"/>
<rect x="244.0" y="711.3" width="18.0" height="18.0" fill="#00ff00"/>
<rect x="255.8" y="709.5" width="18.0" height="18.0" fill="#00ff00"/>
<rect x="268.5" y="702.0" width="18.0" height="18.0" fill="#00ff00"/>
<rect x="278.6" y="695.3" width="18.0" height="18.0" fill="#00ff00"/>
<rect x="288.2" y="683.7" width="18.0" height="18.0" fill="#00ff00"/>
<rect x="298.0" y="661.3" width="18.0" height="18.0" fill="#00ff00"/>
<rect x="308.0" y="636.5" width="18.0" height="18.0" fill="#00ff00"/>
<rect x="317.5" y="607.3" width="18.0" height="18.0" fill="#00ff00"/>
<rect x="327.3" y="577.9" width="18.0" height="18.0" fill="#00ff00"/>
<rect x="337.1" y="551.5" width="18.0" height="18.0" fill="#00ff00"/>
<rect x="346.5" y="518.8" width="18.0" height="18.0" fill="#00ff00"/>
<rect x="355.2" y="494.5" width="18.0" height="18.0" fill="#00ff00"/>
<rect x="369.5" y="487.0" width="18.0" height="18.0" fill="#00ff00"/>
<rect x="379.3" y="507.2" width="18.0" height="18.0" fill="#00ff00"/>
<rect x="388.7" y="542.6" width="18.0" height="18.0" fill="#00ff00"/>
<rect x="398.6" y="588.1" width="18.0" height="18.0" fill="#00ff00"/>
<rect x="408.1" y="623.7" width="18.0" height="18.0" fill="#00ff00"/>
<rect x="417.1" y="643.9" width="18.0" height="18.0" fill="#00ff00"/>
<rect x="427.7" y="632.2" width="18.0" height="18.0" fill="#00ff00"/>
<rect x="437.2" y="605.5" width="18.0" height="18.0" fill="#00ff00"/>
<rect x="446.8" y="567.0" width="18.0" height="18.0" fill="#00ff00"/>
<rect x="457.0" y="527.8" width="18.0" height="18.0" fill="#00ff00"/>
<rect x="468.7" y="498.3" width="18.0" height="18.0" fill="#00ff00"/>
<rect x="479.5" y="475.7" width="18.0" height="18.0" fill="#00ff00"/>
<rect x="489.2" y="453.8" width="18.0" height="18.0" fill="#00ff00"/>
<rect x="499.3" y="422.2" width="18.0" height="18.0" fill="#00ff00"/>
<rect x="508.8" y="376.4" width="18.0" height="18.0" fill="#00ff00"/>
<rect x="518.4" y="331.4" width="18.0" height="18.0" fill="#00ff00"/>
<rect x="527.8" y="289.4" width="18.0" height="18.0" fill="#00ff00"/>
<rect x="537.9" y="255.9" width="18.0" height="18.0" fill="#00ff00"/>
<rect x="546.6" y="236.7" width="18.0" height="18.0" fill="#00ff00"/>
<rect x="560.0" y="235.8" width="18.0" height="18.0" fill="#00ff00"/>
<rect x="570.7" y="255.0" width="18.0" height="18.0" fill="#00ff00"/>
<rect x="580.0" y="288.3" width="18.0" height="18.0" fill="#00ff00"/>
<rect x="589.4" y="340.9" width="18.0" height="18.0" fill="#00ff00"/>
<rect x="599.3" y="400.6" width="18.0" height="18.0" fill="#00ff00"/>
<rect x="609.2" y="468.0" width="18.0" height="18.0" fill="#00ff00"/>
<rect x="619.1" y="528.6" width="18.0" height="18.0" fill="#00ff00"/>
<rect x="628.5" y="573.2" width="18.0" height="18.0" fill="#00ff00"/>
<rect x="637.2" y="598.7" width="18.0" height="18.0" fill="#00ff00"/>
<rect x="647.2" y="604.9" width="18.0" height="18.0" fill="#00ff00"/>
<rect x="660.6" y="600.2" width="18.0" height="18.0" fill="#00ff00"/>
<rect x="670.7" y="583.9" width="18.0" height="18.0" fill="#00ff00"/>
<rect x="680.7" y="561.0" width="18.0" height="18.0" fill="#00ff00"/>
<rect x="690.1" y="535.4" width="18.0" height="18.0" fill="#00ff00"/>
<rect x="700.1" y="508.7" width="18.0" height="18.0" fill="#00ff00"/>
<rect x="709.6" y="465.1" width="18.0" height="18.0" fill="#00ff00"/>
<rect x="719.0" y="420.6" width="18.0" height="18.0" fill="#00ff00"/>
<rect x="728.4" y="385.0" width="18.0" height="18.0" fill="#00ff00"/>
<rect x="738.5" y="347.9" width="18.0" height="18.0" fill="#00ff00"/>
<rect x="748.6" y="329.5" width="18.0" height="18.0" fill="#00ff00"/>
<rect x="761.3" y="338.0" width="18.0" height="18.0" fill="#00ff00"/>
<rect x="771.3" y="382.5" width="18.0" height="18.0" fill="#00ff00"/>
<rect x="780.8" y="460.0" width="18.0" height="18.0" fill="#00ff00"/>
<rect x="790.7" y="560.6" width="18.0" height="18.0" fill="#00ff00"/>
<rect x="800.2" y="667.3" width="18.0" height="18.0" fill="#00ff00"/>
<rect x="810.2" y="766.1" width="18.0" height="18.0" fill="#00ff00"/>
<rect x="819.8" y="844.6" width="18.0" height="18.0" fill="#00ff00"/>
<rect x="829.6" y="896.9" width="18.0" height="18.0" fill="#00ff00"/>
<rect x="837.8" y="919.4" width="18.0" height="18.0" fill="#00ff00"/>
<rect x="849.0" y="921.2" width="18.0" height="18.0" fill="#00ff00"/>
<rect x="862.1" y="903.5" width="18.0" height="18.0" fill="#00ff00"/>
<rect x="871.4" y="873.1" width="18.0" height="18.0" fill="#00ff00"/>
<rect x="881.4" y="845.8" width="18.0" height="18.0" fill="#00ff00"/>
<rect x="890.7" y="826.7" width="18.0" height="18.0" fill="#00ff00"/>
<rect x="899.4" y="822.7" width="18.0" height="18.0" fill="#00ff00"/>
<rect x="910.2" y="835.6" width="18.0" height="18.0" fill="#00ff00"/>
<rect x="920.0" y="863.0" width="18.0" height="18.0" fill="#00ff00"/>
<rect x="930.3" y="897.6" width="18.0" height="18.0" fill="#00ff00"/>
<rect x="939.8" y="931.8" width="18.0" height="18.0" fill="#00ff00"/>
<rect x="949.8" y="955.4" width="18.0" height="18.0" fill="#00ff00"/>
<rect x="959.9" y="967.1" width="18.0" height="18.0" fill="#00ff00"/>
<rect x="972.6" y="961.5" width="18.0" height="18.0" fill="#00ff00"/>
<rect x="982.0" y="943.8" width="18.0" height="18.0" fill="#00ff00"/>
<rect x="992.0" y="919.4" width="18.0" height="18.0" fill="#00ff00"/>
<rect x="1001.4" y="889.4" width="18.0" height="18.0" fill="#00ff00"/>
<rect x="1010.7" y="859.9" width="18.0" height="18.0" fill="#00ff00"/>
<rect x="1020.9" y="836.2" width="18.0" height="18.0" fill="#00ff00"/>
<rect x="1030.2" y="812.5" width="18.0" height="18.0" fill="#00ff00"/>
<rect x="1040.2" y="786.2" width="18.0" height="18.0" fill="#00ff00"/>
<rect x="1049.4" y="762.9" width="18.0" height="18.0" fill="#00ff00"/>
<rect x="1062.9" y="736.3" width="18.0" height="18.0" fill="#00ff00"/>
<rect x="1072.2" y="719.3" width="18.0" height="18.0" fill="#00ff00"/>
<rect x="1080.7" y="706.6" width="18.0" height="18.0" fill="#00ff00"/>
<rect x="1090.7" y="696.0" width="18.0" height="18.0" fill="#00ff00"/>
<rect x="1099.8" y="691.8" width="18.0" height="18.0" fill="#00ff00"/>
<rect x="1109.3" y="693.7" width="18.0" height="18.0" fill="#00ff00"/>
<rect x="1119.5" y="695.7" width="18.0" height="18.0" fill="#00ff00"/>
<rect x="1129.0" y="699.2" width="18.0" height="18.0" fill="#00ff00"/>
<rect x="1139.3" y="702.5" width="18.0" height="18.0" fill="#00ff00"/>
<rect x="1149.5" y="699.4" width="18.0" height="18.0" fill="#00ff00"/>
<rect x="1163.4" y="700.3" width="18.0" height="18.0" fill="#00ff00"/>
<circle cx="242.7" cy="724.5" r="10.5" fill="#ff8000"/>
<circle cx="253.0" cy="722.5" r="10.5" fill="#ff8000"/>
<circle cx="264.8" cy="718.5" r="10.5" fill="#ff8000"/>
<circle cx="277.5" cy="701.2" r="10.5" fill="#ff8000"/>
<circle cx="287.6" cy="686.7" r="10.5" fill="#ff8000"/>
<circle cx="297.2" cy="666.6" r="10.5" fill="#ff8000"/>
<circle cx="307.0" cy="640.0" r="10.5" fill="#ff8000"/>
<circle cx="317.0" cy="614.1" r="10.5" fill="#ff8000"/>
<circle cx="326.5" cy="584.5" r="10.5" fill="#ff8000"/>
<circle cx="336.3" cy="555.6" r="10.5" fill="#ff8000"/>
<circle cx="346.1" cy="530.3" r="10.5" fill="#ff8000"/>
<circle cx="355.5" cy="499.2" r="10.5" fill="#ff8000"/>
<circle cx="364.2" cy="485.9" r="10.5" fill="#ff8000"/>
<circle cx="378.5" cy="487.7" r="10.5" fill="#ff8000"/>
<circle cx="388.3" cy="513.1" r="10.5" fill="#ff8000"/>
<circle cx="397.7" cy="554.4" r="10.5" fill="#ff8000"/>
<circle cx="407.6" cy="601.6" r="10.5" fill="#ff8000"/>
<circle cx="417.1" cy="638.7" r="10.5" fill="#ff8000"/>
<circle cx="426.1" cy="659.3" r="10.5" fill="#ff8000"/>
<circle cx="436.7" cy="648.3" r="10.5" fill="#ff8000"/>
<circle cx="446.2" cy="618.2" r="10.5" fill="#ff8000"/>
<circle cx="455.8" cy="580.0" r="10.5" fill="#ff8000"/>
<circle cx="466.0" cy="540.8" r="10.5" fill="#ff8000"/>
<circle cx="477.7" cy="511.3" r="10.5" fill="#ff8000"/>
<circle cx="488.5" cy="488.3" r="10.5" fill="#ff8000"/>
<circle cx="498.2" cy="465.4" r="10.5" fill="#ff8000"/>
<circle cx="508.3" cy="432.4" r="10.5" fill="#ff8000"/>
<circle cx="517.8" cy="385.2" r="10.5" fill="#ff8000"/>
<circle cx="527.4" cy="338.8" r="10.5" fill="#ff8000"/>
<circle cx="536.8" cy="298.9" r="10.5" fill="#ff8000"/>
<circle cx="546.9" cy="269.5" r="10.5" fill="#ff8000"/>
<circle cx="555.6" cy="253.5" r="10.5" fill="#ff8000"/>
<circle cx="569.0" cy="248.8" r="10.5" fill="#ff8000"/>
<circle cx="579.7" cy="252.5" r="10.5" fill="#ff8000"/>
<circle cx="589.0" cy="279.0" r="10.5" fill="#ff8000"/>
<circle cx="598.4" cy="325.6" r="10.5" fill="#ff8000"/>
<circle cx="608.3" cy="390.3" r="10.5" fill="#ff8000"/>
<circle cx="618.2" cy="459.5" r="10.5" fill="#ff8000"/>
<circle cx="628.1" cy="528.2" r="10.5" fill="#ff8000"/>
<circle cx="637.5" cy="578.4" r="10.5" fill="#ff8000"/>
<circle cx="646.2" cy="610.0" r="10.5" fill="#ff8000"/>
<circle cx="656.2" cy="622.5" r="10.5" fill="#ff8000"/>
<circle cx="669.6" cy="622.5" r="10.5" fill="#ff8000"/>
<circle cx="679.7" cy="609.7" r="10.5" fill="#ff8000"/>
<circle cx="689.7" cy="590.3" r="10.5" fill="#ff8000"/>
<circle cx="699.1" cy="559.6" r="10.5" fill="#ff8000"/>
<circle cx="709.1" cy="527.1" r="10.5" fill="#ff8000"/>
<circle cx="718.6" cy="482.2" r="10.5" fill="#ff8000"/>
<circle cx="728.0" cy="433.4" r="10.5" fill="#ff8000"/>
<circle cx="737.4" cy="388.1" r="10.5" fill="#ff8000"/>
<circle cx="747.5" cy="353.7" r="10.5" fill="#ff8000"/>
<circle cx="757.6" cy="337.9" r="10.5" fill="#ff8000"/>
<circle cx="770.3" cy="347.9" r="10.5" fill="#ff8000"/>
<circle cx="780.3" cy="386.5" r="10.5" fill="#ff8000"/>
<circle cx="789.8" cy="469.5" r="10.5" fill="#ff8000"/>
<circle cx="799.7" cy="571.6" r="10.5" fill="#ff8000"/>
<circle cx="809.2" cy="689.4" r="10.5" fill="#ff8000"/>
<circle cx="819.2" cy="786.1" r="10.5" fill="#ff8000"/>
<circle cx="828.8" cy="864.6" r="10.5" fill="#ff8000"/>
<circle cx="838.6" cy="919.1" r="10.5" fill="#ff8000"/>
<circle cx="846.8" cy="942.0" r="10.5" fill="#ff8000"/>
<circle cx="858.0" cy="946.4" r="10.5" fill="#ff8000"/>
<circle cx="871.1" cy="931.7" r="10.5" fill="#ff8000"/>
<circle cx="880.4" cy="899.3" r="10.5" fill="#ff8000"/>
<circle cx="890.4" cy="870.0" r="10.5" fill="#ff8000"/>
<circle cx="899.7" cy="848.4" r="10.5" fill="#ff8000"/>
<circle cx="908.4" cy="841.1" r="10.5" fill="#ff8000"/>
<circle cx="919.2" cy="852.9" r="10.5" fill="#ff8000"/>
<circle cx="929.0" cy="875.9" r="10.5" fill="#ff8000"/>
<circle cx="939.3" cy="906.1" r="10.5" fill="#ff8000"/>
<circle cx="948.8" cy="942.5" r="10.5" fill="#ff8000"/>
<circle cx="958.8" cy="967.8" r="10.5" fill="#ff8000"/>
<circle cx="968.9" cy="981.2" r="10.5" fill="#ff8000"/>
<circle cx="981.6" cy="977.8" r="10.5" fill="#ff8000"/>
<circle cx="991.0" cy="963.1" r="10.5" fill="#ff8000"/>
<circle cx="1001.0" cy="941.7" r="10.5" fill="#ff8000"/>
<circle cx="1010.4" cy="913.5" r="10.5" fill="#ff8000"/>
<circle cx="1019.7" cy="883.3" r="10.5" fill="#ff8000"/>
<circle cx="1029.9" cy="858.8" r="10.5" fill="#ff8000"/>
<circle cx="1039.2" cy="835.8" r="10.5" fill="#ff8000"/>
<circle cx="1049.2" cy="810.2" r="10.5" fill="#ff8000"/>
<circle cx="1058.4" cy="787.5" r="10.5" fill="#ff8000"/>
<circle cx="1071.9" cy="761.9" r="10.5" fill="#ff8000"/>
<circle cx="1081.2" cy="745.5" r="10.5" fill="#ff8000"/>
<circle cx="1089.7" cy="733.4" r="10.5" fill="#ff8000"/>
<circle cx="1099.7" cy="723.5" r="10.5" fill="#ff8000"/>
<circle cx="1108.8" cy="720.1" r="10.5" fill="#ff8000"/>
<circle cx="1118.3" cy="723.0" r="10.5" fill="#ff8000"/>
<circle cx="1128.5" cy="725.7" r="10.5" fill="#ff8000"/>
<circle cx="1138.0" cy="723.6" r="10.5" fill="#ff8000"/>
<circle cx="1148.3" cy="720.9" r="10.5" fill="#ff8000"/>
<circle cx="1158.5" cy="712.2" r="10.5" fill="#ff8000"/>
<circle cx="1172.4" cy="706.5" r="10.5" fill="#ff8000"/>
<circle cx="242.7" cy="739.5" r="8.75" fill="#fff" stroke="#ff0000" stroke-width="3.5"/><circle cx="242.7" cy="739.5" r="2" fill="#ff2020"/>
<circle cx="253.0" cy="737.5" r="8.75" fill="#fff" stroke="#ff0000" stroke-width="3.5"/><circle cx="253.0" cy="737.5" r="2" fill="#ff2020"/>
<circle cx="264.8" cy="733.5" r="8.75" fill="#fff" stroke="#ff0000" stroke-width="3.5"/><circle cx="264.8" cy="733.5" r="2" fill="#ff2020"/>
<circle cx="277.5" cy="717.8" r="8.75" fill="#fff" stroke="#ff0000" stroke-width="3.5"/><circle cx="277.5" cy="717.8" r="2" fill="#ff2020"/>
<circle cx="287.6" cy="704.6" r="8.75" fill="#fff" stroke="#ff0000" stroke-width="3.5"/><circle cx="287.6" cy="704.6" r="2" fill="#ff2020"/>
<circle cx="297.2" cy="685.0" r="8.75" fill="#fff" stroke="#ff0000" stroke-width="3.5"/><circle cx="297.2" cy="685.0" r="2" fill="#ff2020"/>
<circle cx="307.0" cy="658.9" r="8.75" fill="#fff" stroke="#ff0000" stroke-width="3.5"/><circle cx="307.0" cy="658.9" r="2" fill="#ff2020"/>
<circle cx="317.0" cy="633.5" r="8.75" fill="#fff" stroke="#ff0000" stroke-width="3.5"/><circle cx="317.0" cy="633.5" r="2" fill="#ff2020"/>
<circle cx="326.5" cy="604.3" r="8.75" fill="#fff" stroke="#ff0000" stroke-width="3.5"/><circle cx="326.5" cy="604.3" r="2" fill="#ff2020"/>
<circle cx="336.3" cy="575.1" r="8.75" fill="#fff" stroke="#ff0000" stroke-width="3.5"/><circle cx="336.3" cy="575.1" r="2" fill="#ff2020"/>
<circle cx="346.1" cy="549.0" r="8.75" fill="#fff" stroke="#ff0000" stroke-width="3.5"/><circle cx="346.1" cy="549.0" r="2" fill="#ff2020"/>
<circle cx="355.5" cy="516.6" r="8.75" fill="#fff" stroke="#ff0000" stroke-width="3.5"/><circle cx="355.5" cy="516.6" r="2" fill="#ff2020"/>
<circle cx="364.2" cy="493.8" r="8.75" fill="#fff" stroke="#ff0000" stroke-width="3.5"/><circle cx="364.2" cy="493.8" r="2" fill="#ff2020"/>
<circle cx="378.5" cy="490.8" r="8.75" fill="#fff" stroke="#ff0000" stroke-width="3.5"/><circle cx="378.5" cy="490.8" r="2" fill="#ff2020"/>
<circle cx="388.3" cy="510.2" r="8.75" fill="#fff" stroke="#ff0000" stroke-width="3.5"/><circle cx="388.3" cy="510.2" r="2" fill="#ff2020"/>
<circle cx="397.7" cy="545.6" r="8.75" fill="#fff" stroke="#ff0000" stroke-width="3.5"/><circle cx="397.7" cy="545.6" r="2" fill="#ff2020"/>
<circle cx="407.6" cy="591.1" r="8.75" fill="#fff" stroke="#ff0000" stroke-width="3.5"/><circle cx="407.6" cy="591.1" r="2" fill="#ff2020"/>
<circle cx="417.1" cy="626.7" r="8.75" fill="#fff" stroke="#ff0000" stroke-width="3.5"/><circle cx="417.1" cy="626.7" r="2" fill="#ff2020"/>
<circle cx="426.1" cy="647.3" r="8.75" fill="#fff" stroke="#ff0000" stroke-width="3.5"/><circle cx="426.1" cy="647.3" r="2" fill="#ff2020"/>
<circle cx="436.7" cy="636.3" r="8.75" fill="#fff" stroke="#ff0000" stroke-width="3.5"/><circle cx="436.7" cy="636.3" r="2" fill="#ff2020"/>
<circle cx="446.2" cy="610.2" r="8.75" fill="#fff" stroke="#ff0000" stroke-width="3.5"/><circle cx="446.2" cy="610.2" r="2" fill="#ff2020"/>
<circle cx="455.8" cy="572.0" r="8.75" fill="#fff" stroke="#ff0000" stroke-width="3.5"/><circle cx="455.8" cy="572.0" r="2" fill="#ff2020"/>
<circle cx="466.0" cy="532.8" r="8.75" fill="#fff" stroke="#ff0000" stroke-width="3.5"/><circle cx="466.0" cy="532.8" r="2" fill="#ff2020"/>
<circle cx="477.7" cy="503.3" r="8.75" fill="#fff" stroke="#ff0000" stroke-width="3.5"/><circle cx="477.7" cy="503.3" r="2" fill="#ff2020"/>
<circle cx="488.5" cy="480.7" r="8.75" fill="#fff" stroke="#ff0000" stroke-width="3.5"/><circle cx="488.5" cy="480.7" r="2" fill="#ff2020"/>
<circle cx="498.2" cy="458.3" r="8.75" fill="#fff" stroke="#ff0000" stroke-width="3.5"/><circle cx="498.2" cy="458.3" r="2" fill="#ff2020"/>
<circle cx="508.3" cy="426.2" r="8.75" fill="#fff" stroke="#ff0000" stroke-width="3.5"/><circle cx="508.3" cy="426.2" r="2" fill="#ff2020"/>
<circle cx="517.8" cy="380.0" r="8.75" fill="#fff" stroke="#ff0000" stroke-width="3.5"/><circle cx="517.8" cy="380.0" r="2" fill="#ff2020"/>
<circle cx="527.4" cy="334.5" r="8.75" fill="#fff" stroke="#ff0000" stroke-width="3.5"/><circle cx="527.4" cy="334.5" r="2" fill="#ff2020"/>
<circle cx="536.8" cy="295.6" r="8.75" fill="#fff" stroke="#ff0000" stroke-width="3.5"/><circle cx="536.8" cy="295.6" r="2" fill="#ff2020"/>
<circle cx="546.9" cy="266.9" r="8.75" fill="#fff" stroke="#ff0000" stroke-width="3.5"/><circle cx="546.9" cy="266.9" r="2" fill="#ff2020"/>
<circle cx="555.6" cy="251.5" r="8.75" fill="#fff" stroke="#ff0000" stroke-width="3.5"/><circle cx="555.6" cy="251.5" r="2" fill="#ff2020"/>
<circle cx="569.0" cy="250.8" r="8.75" fill="#fff" stroke="#ff0000" stroke-width="3.5"/><circle cx="569.0" cy="250.8" r="2" fill="#ff2020"/>
<circle cx="579.7" cy="264.2" r="8.75" fill="#fff" stroke="#ff0000" stroke-width="3.5"/><circle cx="579.7" cy="264.2" r="2" fill="#ff2020"/>
<circle cx="589.0" cy="293.0" r="8.75" fill="#fff" stroke="#ff0000" stroke-width="3.5"/><circle cx="589.0" cy="293.0" r="2" fill="#ff2020"/>
<circle cx="598.4" cy="341.2" r="8.75" fill="#fff" stroke="#ff0000" stroke-width="3.5"/><circle cx="598.4" cy="341.2" r="2" fill="#ff2020"/>
<circle cx="608.3" cy="396.3" r="8.75" fill="#fff" stroke="#ff0000" stroke-width="3.5"/><circle cx="608.3" cy="396.3" r="2" fill="#ff2020"/>
<circle cx="618.2" cy="464.4" r="8.75" fill="#fff" stroke="#ff0000" stroke-width="3.5"/><circle cx="618.2" cy="464.4" r="2" fill="#ff2020"/>
<circle cx="628.1" cy="526.1" r="8.75" fill="#fff" stroke="#ff0000" stroke-width="3.5"/><circle cx="628.1" cy="526.1" r="2" fill="#ff2020"/>
<circle cx="637.5" cy="571.6" r="8.75" fill="#fff" stroke="#ff0000" stroke-width="3.5"/><circle cx="637.5" cy="571.6" r="2" fill="#ff2020"/>
<circle cx="646.2" cy="600.4" r="8.75" fill="#fff" stroke="#ff0000" stroke-width="3.5"/><circle cx="646.2" cy="600.4" r="2" fill="#ff2020"/>
<circle cx="656.2" cy="610.5" r="8.75" fill="#fff" stroke="#ff0000" stroke-width="3.5"/><circle cx="656.2" cy="610.5" r="2" fill="#ff2020"/>
<circle cx="669.6" cy="610.5" r="8.75" fill="#fff" stroke="#ff0000" stroke-width="3.5"/><circle cx="669.6" cy="610.5" r="2" fill="#ff2020"/>
<circle cx="679.7" cy="597.7" r="8.75" fill="#fff" stroke="#ff0000" stroke-width="3.5"/><circle cx="679.7" cy="597.7" r="2" fill="#ff2020"/>
<circle cx="689.7" cy="578.3" r="8.75" fill="#fff" stroke="#ff0000" stroke-width="3.5"/><circle cx="689.7" cy="578.3" r="2" fill="#ff2020"/>
<circle cx="699.1" cy="554.9" r="8.75" fill="#fff" stroke="#ff0000" stroke-width="3.5"/><circle cx="699.1" cy="554.9" r="2" fill="#ff2020"/>
<circle cx="709.1" cy="526.1" r="8.75" fill="#fff" stroke="#ff0000" stroke-width="3.5"/><circle cx="709.1" cy="526.1" r="2" fill="#ff2020"/>
<circle cx="718.6" cy="481.2" r="8.75" fill="#fff" stroke="#ff0000" stroke-width="3.5"/><circle cx="718.6" cy="481.2" r="2" fill="#ff2020"/>
<circle cx="728.0" cy="432.4" r="8.75" fill="#fff" stroke="#ff0000" stroke-width="3.5"/><circle cx="728.0" cy="432.4" r="2" fill="#ff2020"/>
<circle cx="737.4" cy="380.2" r="8.75" fill="#fff" stroke="#ff0000" stroke-width="3.5"/><circle cx="737.4" cy="380.2" r="2" fill="#ff2020"/>
<circle cx="747.5" cy="348.2" r="8.75" fill="#fff" stroke="#ff0000" stroke-width="3.5"/><circle cx="747.5" cy="348.2" r="2" fill="#ff2020"/>
<circle cx="757.6" cy="334.8" r="8.75" fill="#fff" stroke="#ff0000" stroke-width="3.5"/><circle cx="757.6" cy="334.8" r="2" fill="#ff2020"/>
<circle cx="770.3" cy="348.2" r="8.75" fill="#fff" stroke="#ff0000" stroke-width="3.5"/><circle cx="770.3" cy="348.2" r="2" fill="#ff2020"/>
<circle cx="780.3" cy="396.4" r="8.75" fill="#fff" stroke="#ff0000" stroke-width="3.5"/><circle cx="780.3" cy="396.4" r="2" fill="#ff2020"/>
<circle cx="789.8" cy="474.6" r="8.75" fill="#fff" stroke="#ff0000" stroke-width="3.5"/><circle cx="789.8" cy="474.6" r="2" fill="#ff2020"/>
<circle cx="799.7" cy="571.8" r="8.75" fill="#fff" stroke="#ff0000" stroke-width="3.5"/><circle cx="799.7" cy="571.8" r="2" fill="#ff2020"/>
<circle cx="809.2" cy="678.4" r="8.75" fill="#fff" stroke="#ff0000" stroke-width="3.5"/><circle cx="809.2" cy="678.4" r="2" fill="#ff2020"/>
<circle cx="819.2" cy="776.1" r="8.75" fill="#fff" stroke="#ff0000" stroke-width="3.5"/><circle cx="819.2" cy="776.1" r="2" fill="#ff2020"/>
<circle cx="828.8" cy="853.6" r="8.75" fill="#fff" stroke="#ff0000" stroke-width="3.5"/><circle cx="828.8" cy="853.6" r="2" fill="#ff2020"/>
<circle cx="838.6" cy="908.6" r="8.75" fill="#fff" stroke="#ff0000" stroke-width="3.5"/><circle cx="838.6" cy="908.6" r="2" fill="#ff2020"/>
<circle cx="846.8" cy="932.0" r="8.75" fill="#fff" stroke="#ff0000" stroke-width="3.5"/><circle cx="846.8" cy="932.0" r="2" fill="#ff2020"/>
<circle cx="858.0" cy="935.0" r="8.75" fill="#fff" stroke="#ff0000" stroke-width="3.5"/><circle cx="858.0" cy="935.0" r="2" fill="#ff2020"/>
<circle cx="871.1" cy="918.7" r="8.75" fill="#fff" stroke="#ff0000" stroke-width="3.5"/><circle cx="871.1" cy="918.7" r="2" fill="#ff2020"/>
<circle cx="880.4" cy="889.2" r="8.75" fill="#fff" stroke="#ff0000" stroke-width="3.5"/><circle cx="880.4" cy="889.2" r="2" fill="#ff2020"/>
<circle cx="890.4" cy="863.0" r="8.75" fill="#fff" stroke="#ff0000" stroke-width="3.5"/><circle cx="890.4" cy="863.0" r="2" fill="#ff2020"/>
<circle cx="899.7" cy="844.3" r="8.75" fill="#fff" stroke="#ff0000" stroke-width="3.5"/><circle cx="899.7" cy="844.3" r="2" fill="#ff2020"/>
<circle cx="908.4" cy="833.6" r="8.75" fill="#fff" stroke="#ff0000" stroke-width="3.5"/><circle cx="908.4" cy="833.6" r="2" fill="#ff2020"/>
<circle cx="919.2" cy="840.9" r="8.75" fill="#fff" stroke="#ff0000" stroke-width="3.5"/><circle cx="919.2" cy="840.9" r="2" fill="#ff2020"/>
<circle cx="929.0" cy="863.2" r="8.75" fill="#fff" stroke="#ff0000" stroke-width="3.5"/><circle cx="929.0" cy="863.2" r="2" fill="#ff2020"/>
<circle cx="939.3" cy="892.7" r="8.75" fill="#fff" stroke="#ff0000" stroke-width="3.5"/><circle cx="939.3" cy="892.7" r="2" fill="#ff2020"/>
<circle cx="948.8" cy="928.5" r="8.75" fill="#fff" stroke="#ff0000" stroke-width="3.5"/><circle cx="948.8" cy="928.5" r="2" fill="#ff2020"/>
<circle cx="958.8" cy="953.8" r="8.75" fill="#fff" stroke="#ff0000" stroke-width="3.5"/><circle cx="958.8" cy="953.8" r="2" fill="#ff2020"/>
<circle cx="968.9" cy="967.2" r="8.75" fill="#fff" stroke="#ff0000" stroke-width="3.5"/><circle cx="968.9" cy="967.2" r="2" fill="#ff2020"/>
<circle cx="981.6" cy="963.8" r="8.75" fill="#fff" stroke="#ff0000" stroke-width="3.5"/><circle cx="981.6" cy="963.8" r="2" fill="#ff2020"/>
<circle cx="991.0" cy="947.8" r="8.75" fill="#fff" stroke="#ff0000" stroke-width="3.5"/><circle cx="991.0" cy="947.8" r="2" fill="#ff2020"/>
<circle cx="1001.0" cy="925.0" r="8.75" fill="#fff" stroke="#ff0000" stroke-width="3.5"/><circle cx="1001.0" cy="925.0" r="2" fill="#ff2020"/>
<circle cx="1010.4" cy="895.6" r="8.75" fill="#fff" stroke="#ff0000" stroke-width="3.5"/><circle cx="1010.4" cy="895.6" r="2" fill="#ff2020"/>
<circle cx="1019.7" cy="866.8" r="8.75" fill="#fff" stroke="#ff0000" stroke-width="3.5"/><circle cx="1019.7" cy="866.8" r="2" fill="#ff2020"/>
<circle cx="1029.9" cy="843.8" r="8.75" fill="#fff" stroke="#ff0000" stroke-width="3.5"/><circle cx="1029.9" cy="843.8" r="2" fill="#ff2020"/>
<circle cx="1039.2" cy="820.8" r="8.75" fill="#fff" stroke="#ff0000" stroke-width="3.5"/><circle cx="1039.2" cy="820.8" r="2" fill="#ff2020"/>
<circle cx="1049.2" cy="795.2" r="8.75" fill="#fff" stroke="#ff0000" stroke-width="3.5"/><circle cx="1049.2" cy="795.2" r="2" fill="#ff2020"/>
<circle cx="1058.4" cy="772.5" r="8.75" fill="#fff" stroke="#ff0000" stroke-width="3.5"/><circle cx="1058.4" cy="772.5" r="2" fill="#ff2020"/>
<circle cx="1071.9" cy="746.9" r="8.75" fill="#fff" stroke="#ff0000" stroke-width="3.5"/><circle cx="1071.9" cy="746.9" r="2" fill="#ff2020"/>
<circle cx="1081.2" cy="730.5" r="8.75" fill="#fff" stroke="#ff0000" stroke-width="3.5"/><circle cx="1081.2" cy="730.5" r="2" fill="#ff2020"/>
<circle cx="1089.7" cy="718.4" r="8.75" fill="#fff" stroke="#ff0000" stroke-width="3.5"/><circle cx="1089.7" cy="718.4" r="2" fill="#ff2020"/>
<circle cx="1099.7" cy="708.5" r="8.75" fill="#fff" stroke="#ff0000" stroke-width="3.5"/><circle cx="1099.7" cy="708.5" r="2" fill="#ff2020"/>
<circle cx="1108.8" cy="705.1" r="8.75" fill="#fff" stroke="#ff0000" stroke-width="3.5"/><circle cx="1108.8" cy="705.1" r="2" fill="#ff2020"/>
<circle cx="1118.3" cy="708.0" r="8.75" fill="#fff" stroke="#ff0000" stroke-width="3.5"/><circle cx="1118.3" cy="708.0" r="2" fill="#ff2020"/>
<circle cx="1128.5" cy="711.0" r="8.75" fill="#fff" stroke="#ff0000" stroke-width="3.5"/><circle cx="1128.5" cy="711.0" r="2" fill="#ff2020"/>
<circle cx="1138.0" cy="715.4" r="8.75" fill="#fff" stroke="#ff0000" stroke-width="3.5"/><circle cx="1138.0" cy="715.4" r="2" fill="#ff2020"/>
<circle cx="1148.3" cy="719.7" r="8.75" fill="#fff" stroke="#ff0000" stroke-width="3.5"/><circle cx="1148.3" cy="719.7" r="2" fill="#ff2020"/>
<circle cx="1158.5" cy="717.6" r="8.75" fill="#fff" stroke="#ff0000" stroke-width="3.5"/><circle cx="1158.5" cy="717.6" r="2" fill="#ff2020"/>
<circle cx="1172.4" cy="720.5" r="8.75" fill="#fff" stroke="#ff0000" stroke-width="3.5"/><circle cx="1172.4" cy="720.5" r="2" fill="#ff2020"/>
</g>
<g id="deco">
<line x1="378.7" y1="84.4" x2="378.7" y2="983" stroke="#000" stroke-width="3.4" stroke-dasharray="28.7 23.15"/>
<line x1="815.8" y1="165.4" x2="815.8" y2="983" stroke="#000" stroke-width="3.4" stroke-dasharray="28.5 22.9"/>
<line x1="246.0" y1="750.4" x2="1179.0" y2="750.4" stroke="#000" stroke-width="3.6"/>
<line x1="395" y1="217.6" x2="805" y2="217.6" stroke="#000" stroke-width="3.2"/>
<path d="M815.5,217.6 L812.0,214.3 L806.0,212.8 L800.0,211.6 L796.0,212.2 L795.0,217.6 L794.5,223.8 L800.0,223.6 L806.0,222.3 L811.5,220.2 Z" fill="#000"/>
<line x1="796.5" y1="212.2" x2="789.9" y2="208.2" stroke="#000" stroke-width="2.6" stroke-linecap="round"/>
<line x1="795.0" y1="223.8" x2="786.2" y2="228.6" stroke="#000" stroke-width="2.6" stroke-linecap="round"/>
<path d="M384.5,217.6 L388.0,214.3 L394.0,212.8 L400.0,211.6 L404.0,212.2 L405.0,217.6 L405.5,223.8 L400.0,223.6 L394.0,222.3 L388.5,220.2 Z" fill="#000"/>
<line x1="403.5" y1="212.2" x2="410.1" y2="208.2" stroke="#000" stroke-width="2.6" stroke-linecap="round"/>
<line x1="405.0" y1="223.8" x2="413.8" y2="228.6" stroke="#000" stroke-width="2.6" stroke-linecap="round"/>
</g>
<g id="txt">
<g transform="matrix(0.9833,0,0,1.0075,-106.18,-1.00)"><text x="227" y="67" font-size="58">0.06</text></g>
<g transform="matrix(0.9661,0,0,1.0150,-102.23,-4.42)"><text x="227" y="301" font-size="58">0.04</text></g>
<g transform="matrix(0.9750,0,0,1.0025,-104.28,-2.14)"><text x="227" y="535" font-size="58">0.02</text></g>
<g transform="matrix(0.9071,0,0,0.9925,-8.74,5.28)"><text x="227" y="758" font-size="58">0</text></g>
<g transform="matrix(0.9817,0,0,1.0250,-123.89,-25.35)"><text x="244" y="1002" font-size="58">-0.02</text></g>
<g transform="matrix(1.0359,0,0,1.0450,-4.28,-46.67)"><text x="196.9" y="1046" font-size="58">-10</text></g>
<g transform="matrix(1.0214,0,0,1.0450,-3.99,-46.67)"><text x="356.7" y="1046" font-size="58">0</text></g>
<g transform="matrix(0.9638,0,0,1.0450,19.16,-46.67)"><text x="480.6" y="1046" font-size="58">10</text></g>
<g transform="matrix(1.0034,0,0,1.0450,1.02,-46.67)"><text x="610.1" y="1046" font-size="58">20</text></g>
<g transform="matrix(0.9867,0,0,1.0450,13.73,-46.67)"><text x="742.8" y="1046" font-size="58">30</text></g>
<g transform="matrix(0.9836,0,0,1.0450,19.34,-46.67)"><text x="874.0" y="1046" font-size="58">40</text></g>
<g transform="matrix(0.9733,0,0,1.0450,30.56,-46.67)"><text x="1008.6" y="1046" font-size="58">50</text></g>
<g transform="matrix(0.9917,0,0,1.0450,12.93,-46.67)"><text x="1141.4" y="1046" font-size="58">60</text></g>
<g transform="matrix(0.9860,0,0,1.0037,2.10,-4.36)"><text x="542" y="1124" font-size="78">E-E</text></g>
<g transform="matrix(0.9680,0,0,1.0389,18.94,-45.26)"><text x="668" y="1169" font-size="52">0</text></g>
<g transform="matrix(1.0022,0,0,0.9932,-6.58,7.71)"><text x="722" y="1124" font-size="78">(eV)</text></g>
<g transform="matrix(0.9764,0,0,1.0409,1.14,-22.01)"><text transform="translate(81,615) rotate(-90)" font-size="78"><tspan style="font-family:'Liberation Serif'">&#916;&#945;/&#916;</tspan>E</text></g>
<g transform="matrix(1.0044,0,0,0.9870,-3.54,1.03)"><text x="547" y="106" font-size="58">derivative of dispersive</text></g>
<g transform="matrix(1.0027,0,0,0.9881,-6.16,2.64)"><text x="802" y="180" font-size="58">Pb L</text></g>
<g transform="matrix(0.9667,0,0,1.0296,29.33,-5.57)"><text x="920" y="215" font-size="39">3</text></g>
<g transform="matrix(1.0036,0,0,1.0450,-5.20,-8.35)"><text x="958" y="181" font-size="58">XANES</text></g>
<g transform="matrix(1.0118,0,0,0.9981,-13.34,1.07)"><text x="871" y="287" font-size="58">at 12 spots</text></g>
<g transform="matrix(1.0032,0,0,1.0300,-6.10,-5.32)"><text x="491" y="174" font-size="58">E</text></g>
<g transform="matrix(0.9976,0,0,1.0000,-1.70,0.20)"><text x="529" y="209" font-size="39">MSR</text></g>
<g transform="matrix(1.0132,0,0,1.0217,-6.00,-18.65)"><text x="429" y="881" font-size="63"><tspan style="font-family:'Liberation Serif'">&#916;</tspan>R/R=0.2%</text></g>
</g>
</g>
</svg>
</body></html>
